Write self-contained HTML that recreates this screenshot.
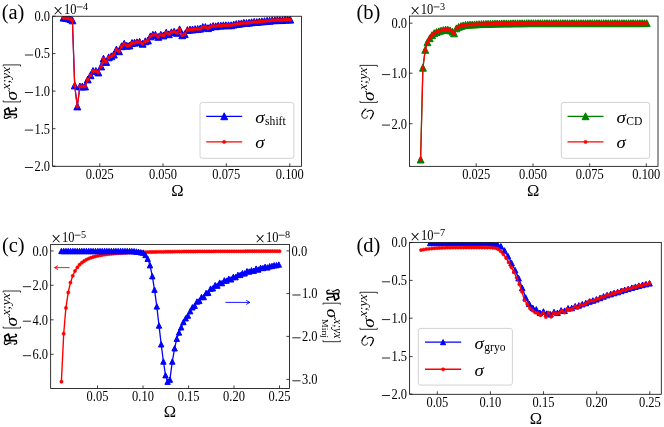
<!DOCTYPE html>
<html><head><meta charset="utf-8"><title>Figure</title>
<style>html,body{margin:0;padding:0;background:#fff;font-family:"Liberation Serif",serif;}svg{display:block;will-change:transform;}</style>
</head><body>
<svg width="664" height="427" viewBox="0 0 664 427" font-family="'Liberation Serif', serif" fill="#000"><rect width="664" height="427" fill="#fff"/>
<defs>
<clipPath id="ca"><rect x="52.5" y="16" width="249" height="150.3"/></clipPath>
<clipPath id="cb"><rect x="409.5" y="16.1" width="248.5" height="150.25"/></clipPath>
<clipPath id="cc"><rect x="50.65" y="244.4" width="238.8" height="144.05"/></clipPath>
<clipPath id="cd"><rect x="409.6" y="242.4" width="251.7" height="151.9"/></clipPath>
</defs>
<g clip-path="url(#ca)"><polyline points="63.5,17.6 65.7,17.9 68.2,18.3 70.5,19 72.4,20.4 74.7,85.5 77.3,106.5 79.9,86.4 82.4,86.4 85,86.5 87.7,79.5 90.5,75.3 93,71 95.8,71 98.3,72.5 101.1,66.5 103.5,58.7 106.1,62 108.7,57.4 111.3,56.2 113.8,54.6 116.4,49.6 119,51.3 121.6,46.3 124.2,43.8 126.8,45.8 129.4,45.5 132,43 134.5,42.7 137,42.2 139.6,41.8 142.6,43.8 145.3,41.3 147.9,40.5 150.4,36.4 152.9,34.7 155.4,34.7 158.2,36.9 160.8,34.7 163.4,35.5 166.2,32.6 168.8,34.2 171.4,32.2 174.2,31.6 177,32.9 179.6,29.3 182.2,35.3 184.7,34.1 187.4,30 190,29.6 192.5,29.5 195.1,29.1 197.7,29 200.2,28.7 202.8,27.1 205.4,27 208,28.2 210.5,26.9 213.1,26 215.7,26.2 218.2,25.7 220.8,25.7 223.4,25.2 225.9,25.2 228.5,25.2 231.1,25.2 233.7,24.6 236.2,24 238.8,23.8 241.4,23.4 243.9,22.8 246.5,23 249.1,22.7 251.6,22.3 254.2,21.9 256.8,22.1 259.4,21.5 261.9,21.3 264.5,21.1 267.1,20.8 269.6,20.7 272.2,20.2 274.8,20.3 277.4,19.9 279.9,20.1 282.5,20.1 285.1,19.5 287.6,19.5 290.2,19.7" fill="none" stroke="#0000ff" stroke-width="1.25" stroke-linejoin="round"/><path d="M63.5,14.2l3.5,6.9h-6.9zM65.7,14.4l3.5,6.9h-6.9zM68.2,14.9l3.5,6.9h-6.9zM70.5,15.6l3.5,6.9h-6.9zM72.4,16.9l3.5,6.9h-6.9zM74.7,82l3.5,6.9h-6.9zM77.3,103l3.5,6.9h-6.9zM79.9,83l3.5,6.9h-6.9zM82.4,83l3.5,6.9h-6.9zM85,83l3.5,6.9h-6.9zM87.7,76l3.5,6.9h-6.9zM90.5,71.8l3.5,6.9h-6.9zM93,67.5l3.5,6.9h-6.9zM95.8,67.5l3.5,6.9h-6.9zM98.3,69l3.5,6.9h-6.9zM101.1,63l3.5,6.9h-6.9zM103.5,55.2l3.5,6.9h-6.9zM106.1,58.5l3.5,6.9h-6.9zM108.7,53.9l3.5,6.9h-6.9zM111.3,52.8l3.5,6.9h-6.9zM113.8,51.1l3.5,6.9h-6.9zM116.4,46.1l3.5,6.9h-6.9zM119,47.8l3.5,6.9h-6.9zM121.6,42.8l3.5,6.9h-6.9zM124.2,40.3l3.5,6.9h-6.9zM126.8,42.3l3.5,6.9h-6.9zM129.4,42l3.5,6.9h-6.9zM132,39.5l3.5,6.9h-6.9zM134.5,39.2l3.5,6.9h-6.9zM137,38.8l3.5,6.9h-6.9zM139.6,38.3l3.5,6.9h-6.9zM142.6,40.3l3.5,6.9h-6.9zM145.3,37.8l3.5,6.9h-6.9zM147.9,37l3.5,6.9h-6.9zM150.4,32.9l3.5,6.9h-6.9zM152.9,31.3l3.5,6.9h-6.9zM155.4,31.3l3.5,6.9h-6.9zM158.2,33.4l3.5,6.9h-6.9zM160.8,31.3l3.5,6.9h-6.9zM163.4,32l3.5,6.9h-6.9zM166.2,29.2l3.5,6.9h-6.9zM168.8,30.8l3.5,6.9h-6.9zM171.4,28.8l3.5,6.9h-6.9zM174.2,28.2l3.5,6.9h-6.9zM177,29.4l3.5,6.9h-6.9zM179.6,25.9l3.5,6.9h-6.9zM182.2,31.8l3.5,6.9h-6.9zM184.7,30.7l3.5,6.9h-6.9zM187.4,26.6l3.5,6.9h-6.9zM190,26.1l3.5,6.9h-6.9zM192.5,26l3.5,6.9h-6.9zM195.1,25.7l3.5,6.9h-6.9zM197.7,25.5l3.5,6.9h-6.9zM200.2,25.2l3.5,6.9h-6.9zM202.8,23.6l3.5,6.9h-6.9zM205.4,23.6l3.5,6.9h-6.9zM208,24.7l3.5,6.9h-6.9zM210.5,23.5l3.5,6.9h-6.9zM213.1,22.6l3.5,6.9h-6.9zM215.7,22.8l3.5,6.9h-6.9zM218.2,22.2l3.5,6.9h-6.9zM220.8,22.2l3.5,6.9h-6.9zM223.4,21.8l3.5,6.9h-6.9zM225.9,21.8l3.5,6.9h-6.9zM228.5,21.8l3.5,6.9h-6.9zM231.1,21.8l3.5,6.9h-6.9zM233.7,21.1l3.5,6.9h-6.9zM236.2,20.6l3.5,6.9h-6.9zM238.8,20.3l3.5,6.9h-6.9zM241.4,19.9l3.5,6.9h-6.9zM243.9,19.3l3.5,6.9h-6.9zM246.5,19.5l3.5,6.9h-6.9zM249.1,19.2l3.5,6.9h-6.9zM251.6,18.8l3.5,6.9h-6.9zM254.2,18.4l3.5,6.9h-6.9zM256.8,18.6l3.5,6.9h-6.9zM259.4,18.1l3.5,6.9h-6.9zM261.9,17.9l3.5,6.9h-6.9zM264.5,17.7l3.5,6.9h-6.9zM267.1,17.3l3.5,6.9h-6.9zM269.6,17.3l3.5,6.9h-6.9zM272.2,16.8l3.5,6.9h-6.9zM274.8,16.8l3.5,6.9h-6.9zM277.4,16.5l3.5,6.9h-6.9zM279.9,16.7l3.5,6.9h-6.9zM282.5,16.6l3.5,6.9h-6.9zM285.1,16.1l3.5,6.9h-6.9zM287.6,16.1l3.5,6.9h-6.9zM290.2,16.2l3.5,6.9h-6.9z" fill="#0000ff" stroke="#0000ff" stroke-width="1" stroke-linejoin="miter"/><polyline points="63.5,17.6 65.7,17.9 68.2,18.3 70.5,19 72.4,20.4 74.7,85.5 77.3,106.5 79.9,86.4 82.4,86.4 85,86.5 87.7,79.5 90.5,75.3 93,71 95.8,71 98.3,72.5 101.1,66.5 103.5,58.7 106.1,62 108.7,57.4 111.3,56.2 113.8,54.6 116.4,49.6 119,51.3 121.6,46.3 124.2,43.8 126.8,45.8 129.4,45.5 132,43 134.5,42.7 137,42.2 139.6,41.8 142.6,43.8 145.3,41.3 147.9,40.5 150.4,36.4 152.9,34.7 155.4,34.7 158.2,36.9 160.8,34.7 163.4,35.5 166.2,32.6 168.8,34.2 171.4,32.2 174.2,31.6 177,32.9 179.6,29.3 182.2,35.3 184.7,34.1 187.4,30 190,29.6 192.5,29.5 195.1,29.1 197.7,29 200.2,28.7 202.8,27.1 205.4,27 208,28.2 210.5,26.9 213.1,26 215.7,26.2 218.2,25.7 220.8,25.7 223.4,25.2 225.9,25.2 228.5,25.2 231.1,25.2 233.7,24.6 236.2,24 238.8,23.8 241.4,23.4 243.9,22.8 246.5,23 249.1,22.7 251.6,22.3 254.2,21.9 256.8,22.1 259.4,21.5 261.9,21.3 264.5,21.1 267.1,20.8 269.6,20.7 272.2,20.2 274.8,20.3 277.4,19.9 279.9,20.1 282.5,20.1 285.1,19.5 287.6,19.5 290.2,19.7" fill="none" stroke="#ff0000" stroke-width="1.25" stroke-linejoin="round"/><path d="M61.9,17.6a1.65,1.65 0 1,0 3.3,0a1.65,1.65 0 1,0 -3.3,0zM64,17.9a1.65,1.65 0 1,0 3.3,0a1.65,1.65 0 1,0 -3.3,0zM66.5,18.3a1.65,1.65 0 1,0 3.3,0a1.65,1.65 0 1,0 -3.3,0zM68.8,19a1.65,1.65 0 1,0 3.3,0a1.65,1.65 0 1,0 -3.3,0zM70.8,20.4a1.65,1.65 0 1,0 3.3,0a1.65,1.65 0 1,0 -3.3,0zM73,85.5a1.65,1.65 0 1,0 3.3,0a1.65,1.65 0 1,0 -3.3,0zM75.6,106.5a1.65,1.65 0 1,0 3.3,0a1.65,1.65 0 1,0 -3.3,0zM78.2,86.4a1.65,1.65 0 1,0 3.3,0a1.65,1.65 0 1,0 -3.3,0zM80.8,86.4a1.65,1.65 0 1,0 3.3,0a1.65,1.65 0 1,0 -3.3,0zM83.3,86.5a1.65,1.65 0 1,0 3.3,0a1.65,1.65 0 1,0 -3.3,0zM86,79.5a1.65,1.65 0 1,0 3.3,0a1.65,1.65 0 1,0 -3.3,0zM88.8,75.3a1.65,1.65 0 1,0 3.3,0a1.65,1.65 0 1,0 -3.3,0zM91.3,71a1.65,1.65 0 1,0 3.3,0a1.65,1.65 0 1,0 -3.3,0zM94.1,71a1.65,1.65 0 1,0 3.3,0a1.65,1.65 0 1,0 -3.3,0zM96.6,72.5a1.65,1.65 0 1,0 3.3,0a1.65,1.65 0 1,0 -3.3,0zM99.4,66.5a1.65,1.65 0 1,0 3.3,0a1.65,1.65 0 1,0 -3.3,0zM101.8,58.7a1.65,1.65 0 1,0 3.3,0a1.65,1.65 0 1,0 -3.3,0zM104.4,62a1.65,1.65 0 1,0 3.3,0a1.65,1.65 0 1,0 -3.3,0zM107,57.4a1.65,1.65 0 1,0 3.3,0a1.65,1.65 0 1,0 -3.3,0zM109.6,56.2a1.65,1.65 0 1,0 3.3,0a1.65,1.65 0 1,0 -3.3,0zM112.1,54.6a1.65,1.65 0 1,0 3.3,0a1.65,1.65 0 1,0 -3.3,0zM114.8,49.6a1.65,1.65 0 1,0 3.3,0a1.65,1.65 0 1,0 -3.3,0zM117.3,51.3a1.65,1.65 0 1,0 3.3,0a1.65,1.65 0 1,0 -3.3,0zM119.9,46.3a1.65,1.65 0 1,0 3.3,0a1.65,1.65 0 1,0 -3.3,0zM122.5,43.8a1.65,1.65 0 1,0 3.3,0a1.65,1.65 0 1,0 -3.3,0zM125.1,45.8a1.65,1.65 0 1,0 3.3,0a1.65,1.65 0 1,0 -3.3,0zM127.8,45.5a1.65,1.65 0 1,0 3.3,0a1.65,1.65 0 1,0 -3.3,0zM130.3,43a1.65,1.65 0 1,0 3.3,0a1.65,1.65 0 1,0 -3.3,0zM132.8,42.7a1.65,1.65 0 1,0 3.3,0a1.65,1.65 0 1,0 -3.3,0zM135.3,42.2a1.65,1.65 0 1,0 3.3,0a1.65,1.65 0 1,0 -3.3,0zM137.9,41.8a1.65,1.65 0 1,0 3.3,0a1.65,1.65 0 1,0 -3.3,0zM140.9,43.8a1.65,1.65 0 1,0 3.3,0a1.65,1.65 0 1,0 -3.3,0zM143.7,41.3a1.65,1.65 0 1,0 3.3,0a1.65,1.65 0 1,0 -3.3,0zM146.2,40.5a1.65,1.65 0 1,0 3.3,0a1.65,1.65 0 1,0 -3.3,0zM148.8,36.4a1.65,1.65 0 1,0 3.3,0a1.65,1.65 0 1,0 -3.3,0zM151.2,34.7a1.65,1.65 0 1,0 3.3,0a1.65,1.65 0 1,0 -3.3,0zM153.8,34.7a1.65,1.65 0 1,0 3.3,0a1.65,1.65 0 1,0 -3.3,0zM156.5,36.9a1.65,1.65 0 1,0 3.3,0a1.65,1.65 0 1,0 -3.3,0zM159.2,34.7a1.65,1.65 0 1,0 3.3,0a1.65,1.65 0 1,0 -3.3,0zM161.8,35.5a1.65,1.65 0 1,0 3.3,0a1.65,1.65 0 1,0 -3.3,0zM164.5,32.6a1.65,1.65 0 1,0 3.3,0a1.65,1.65 0 1,0 -3.3,0zM167.2,34.2a1.65,1.65 0 1,0 3.3,0a1.65,1.65 0 1,0 -3.3,0zM169.8,32.2a1.65,1.65 0 1,0 3.3,0a1.65,1.65 0 1,0 -3.3,0zM172.5,31.6a1.65,1.65 0 1,0 3.3,0a1.65,1.65 0 1,0 -3.3,0zM175.3,32.9a1.65,1.65 0 1,0 3.3,0a1.65,1.65 0 1,0 -3.3,0zM177.9,29.3a1.65,1.65 0 1,0 3.3,0a1.65,1.65 0 1,0 -3.3,0zM180.5,35.3a1.65,1.65 0 1,0 3.3,0a1.65,1.65 0 1,0 -3.3,0zM183,34.1a1.65,1.65 0 1,0 3.3,0a1.65,1.65 0 1,0 -3.3,0zM185.8,30a1.65,1.65 0 1,0 3.3,0a1.65,1.65 0 1,0 -3.3,0zM188.3,29.6a1.65,1.65 0 1,0 3.3,0a1.65,1.65 0 1,0 -3.3,0zM190.9,29.5a1.65,1.65 0 1,0 3.3,0a1.65,1.65 0 1,0 -3.3,0zM193.5,29.1a1.65,1.65 0 1,0 3.3,0a1.65,1.65 0 1,0 -3.3,0zM196,29a1.65,1.65 0 1,0 3.3,0a1.65,1.65 0 1,0 -3.3,0zM198.6,28.7a1.65,1.65 0 1,0 3.3,0a1.65,1.65 0 1,0 -3.3,0zM201.2,27.1a1.65,1.65 0 1,0 3.3,0a1.65,1.65 0 1,0 -3.3,0zM203.7,27a1.65,1.65 0 1,0 3.3,0a1.65,1.65 0 1,0 -3.3,0zM206.3,28.2a1.65,1.65 0 1,0 3.3,0a1.65,1.65 0 1,0 -3.3,0zM208.9,26.9a1.65,1.65 0 1,0 3.3,0a1.65,1.65 0 1,0 -3.3,0zM211.4,26a1.65,1.65 0 1,0 3.3,0a1.65,1.65 0 1,0 -3.3,0zM214,26.2a1.65,1.65 0 1,0 3.3,0a1.65,1.65 0 1,0 -3.3,0zM216.6,25.7a1.65,1.65 0 1,0 3.3,0a1.65,1.65 0 1,0 -3.3,0zM219.2,25.7a1.65,1.65 0 1,0 3.3,0a1.65,1.65 0 1,0 -3.3,0zM221.7,25.2a1.65,1.65 0 1,0 3.3,0a1.65,1.65 0 1,0 -3.3,0zM224.3,25.2a1.65,1.65 0 1,0 3.3,0a1.65,1.65 0 1,0 -3.3,0zM226.9,25.2a1.65,1.65 0 1,0 3.3,0a1.65,1.65 0 1,0 -3.3,0zM229.4,25.2a1.65,1.65 0 1,0 3.3,0a1.65,1.65 0 1,0 -3.3,0zM232,24.6a1.65,1.65 0 1,0 3.3,0a1.65,1.65 0 1,0 -3.3,0zM234.6,24a1.65,1.65 0 1,0 3.3,0a1.65,1.65 0 1,0 -3.3,0zM237.2,23.8a1.65,1.65 0 1,0 3.3,0a1.65,1.65 0 1,0 -3.3,0zM239.7,23.4a1.65,1.65 0 1,0 3.3,0a1.65,1.65 0 1,0 -3.3,0zM242.3,22.8a1.65,1.65 0 1,0 3.3,0a1.65,1.65 0 1,0 -3.3,0zM244.9,23a1.65,1.65 0 1,0 3.3,0a1.65,1.65 0 1,0 -3.3,0zM247.4,22.7a1.65,1.65 0 1,0 3.3,0a1.65,1.65 0 1,0 -3.3,0zM250,22.3a1.65,1.65 0 1,0 3.3,0a1.65,1.65 0 1,0 -3.3,0zM252.6,21.9a1.65,1.65 0 1,0 3.3,0a1.65,1.65 0 1,0 -3.3,0zM255.1,22.1a1.65,1.65 0 1,0 3.3,0a1.65,1.65 0 1,0 -3.3,0zM257.7,21.5a1.65,1.65 0 1,0 3.3,0a1.65,1.65 0 1,0 -3.3,0zM260.3,21.3a1.65,1.65 0 1,0 3.3,0a1.65,1.65 0 1,0 -3.3,0zM262.9,21.1a1.65,1.65 0 1,0 3.3,0a1.65,1.65 0 1,0 -3.3,0zM265.4,20.8a1.65,1.65 0 1,0 3.3,0a1.65,1.65 0 1,0 -3.3,0zM268,20.7a1.65,1.65 0 1,0 3.3,0a1.65,1.65 0 1,0 -3.3,0zM270.6,20.2a1.65,1.65 0 1,0 3.3,0a1.65,1.65 0 1,0 -3.3,0zM273.1,20.3a1.65,1.65 0 1,0 3.3,0a1.65,1.65 0 1,0 -3.3,0zM275.7,19.9a1.65,1.65 0 1,0 3.3,0a1.65,1.65 0 1,0 -3.3,0zM278.3,20.1a1.65,1.65 0 1,0 3.3,0a1.65,1.65 0 1,0 -3.3,0zM280.8,20.1a1.65,1.65 0 1,0 3.3,0a1.65,1.65 0 1,0 -3.3,0zM283.4,19.5a1.65,1.65 0 1,0 3.3,0a1.65,1.65 0 1,0 -3.3,0zM286,19.5a1.65,1.65 0 1,0 3.3,0a1.65,1.65 0 1,0 -3.3,0zM288.6,19.7a1.65,1.65 0 1,0 3.3,0a1.65,1.65 0 1,0 -3.3,0z" fill="#ff0000" stroke="#ff0000" stroke-width="0.5"/></g>
<rect x="52.6" y="16.25" width="248.9" height="150.05" fill="none" stroke="#111" stroke-width="0.85"/>
<line x1="99.8" y1="166.3" x2="99.8" y2="163.3" stroke="#111" stroke-width="0.8"/><line x1="163" y1="166.3" x2="163" y2="163.3" stroke="#111" stroke-width="0.8"/><line x1="226.3" y1="166.3" x2="226.3" y2="163.3" stroke="#111" stroke-width="0.8"/><line x1="289.8" y1="166.3" x2="289.8" y2="163.3" stroke="#111" stroke-width="0.8"/>
<line x1="52.5" y1="16.2" x2="55.5" y2="16.2" stroke="#111" stroke-width="0.8"/><line x1="52.5" y1="53.6" x2="55.5" y2="53.6" stroke="#111" stroke-width="0.8"/><line x1="52.5" y1="91.1" x2="55.5" y2="91.1" stroke="#111" stroke-width="0.8"/><line x1="52.5" y1="128.7" x2="55.5" y2="128.7" stroke="#111" stroke-width="0.8"/><line x1="52.5" y1="166.1" x2="55.5" y2="166.1" stroke="#111" stroke-width="0.8"/>
<text transform="translate(99.8,179.2) scale(0.93,1.035)" font-size="13.4" text-anchor="middle">0.025</text>
<text transform="translate(163,179.2) scale(0.93,1.035)" font-size="13.4" text-anchor="middle">0.050</text>
<text transform="translate(226.3,179.2) scale(0.93,1.035)" font-size="13.4" text-anchor="middle">0.075</text>
<text transform="translate(289.8,179.2) scale(0.93,1.035)" font-size="13.4" text-anchor="middle">0.100</text>
<text transform="translate(50,21) scale(0.93,1.035)" font-size="13.4" text-anchor="end">0.0</text>
<text transform="translate(50,58.4) scale(0.93,1.035)" font-size="13.4" text-anchor="end">0.5</text><line x1="24.9" y1="55" x2="33.1" y2="55" stroke="#000" stroke-width="0.85"/>
<text transform="translate(50,95.9) scale(0.93,1.035)" font-size="13.4" text-anchor="end">1.0</text><line x1="24.9" y1="92.5" x2="33.1" y2="92.5" stroke="#000" stroke-width="0.85"/>
<text transform="translate(50,133.5) scale(0.93,1.035)" font-size="13.4" text-anchor="end">1.5</text><line x1="24.9" y1="130.1" x2="33.1" y2="130.1" stroke="#000" stroke-width="0.85"/>
<text transform="translate(50,170.9) scale(0.93,1.035)" font-size="13.4" text-anchor="end">2.0</text><line x1="24.9" y1="167.5" x2="33.1" y2="167.5" stroke="#000" stroke-width="0.85"/>
<text x="53.1" y="16.7" font-size="18">×</text><text transform="translate(63.9,13.9) scale(0.93,1.035)" font-size="13.4" text-anchor="start">10</text><line x1="76.7" y1="6.9" x2="82.6" y2="6.9" stroke="#000" stroke-width="0.75"/><text x="83.1" y="9.6" font-size="10.2">4</text>
<text x="177.3" y="196.0" font-size="16.6" text-anchor="middle" >Ω</text>
<text x="1.7" y="19.1" font-size="20.5" text-anchor="start" >(a)</text>
<g clip-path="url(#cb)"><polyline points="420.6,159.5 422.9,67.8 425.2,49.9 427.4,42.3 429.7,38.2 432,35.1 434.2,33.1 436.5,32 438.8,31.2 441,30.5 443.3,30 445.6,29.5 447.8,29.6 450.1,30.3 452.4,31.6 454,33.4 456.4,28.3 458.7,26.8 461,26 463.2,25.4 465.5,24.9 467.8,24.7 470,24.6 472.3,24.5 474.6,24.4 476.8,24.3 479.1,24.2 481.4,24.1 483.6,24 485.9,23.9 488.1,23.8 490.4,23.7 492.7,23.6 494.9,23.6 497.2,23.5 499.5,23.4 501.7,23.4 504,23.4 506.3,23.4 508.5,23.3 510.8,23.3 513.1,23.3 515.3,23.3 517.6,23.3 519.9,23.2 522.1,23.2 524.4,23.2 526.7,23.2 528.9,23.2 531.2,23.2 533.4,23.1 535.7,23.1 538,23.1 540.2,23.1 542.5,23.1 544.8,23.1 547,23.1 549.3,23.1 551.6,23.1 553.8,23.1 556.1,23.1 558.4,23.1 560.6,23.1 562.9,23.1 565.2,23.1 567.4,23.1 569.7,23.1 572,23.1 574.2,23.1 576.5,23.1 578.7,23.1 581,23.1 583.3,23.1 585.5,23.1 587.8,23.1 590.1,23.1 592.3,23.1 594.6,23.1 596.9,23.1 599.1,23.1 601.4,23.1 603.7,23.1 605.9,23.1 608.2,23.1 610.5,23.1 612.7,23.1 615,23.1 617.3,23.1 619.5,23.1 621.8,23.1 624,23.1 626.3,23.1 628.6,23.1 630.8,23.1 633.1,23.1 635.4,23.1 637.6,23.1 639.9,23.1 642.2,23.1 644.4,23.1 646.7,23.1" fill="none" stroke="#008000" stroke-width="1.25" stroke-linejoin="round"/><path d="M420.6,156.1l3.5,6.9h-6.9zM422.9,64.3l3.5,6.9h-6.9zM425.2,46.4l3.5,6.9h-6.9zM427.4,38.8l3.5,6.9h-6.9zM429.7,34.8l3.5,6.9h-6.9zM432,31.7l3.5,6.9h-6.9zM434.2,29.7l3.5,6.9h-6.9zM436.5,28.6l3.5,6.9h-6.9zM438.8,27.8l3.5,6.9h-6.9zM441,27.1l3.5,6.9h-6.9zM443.3,26.6l3.5,6.9h-6.9zM445.6,26.1l3.5,6.9h-6.9zM447.8,26.2l3.5,6.9h-6.9zM450.1,26.9l3.5,6.9h-6.9zM452.4,28.2l3.5,6.9h-6.9zM454,29.9l3.5,6.9h-6.9zM456.4,24.9l3.5,6.9h-6.9zM458.7,23.4l3.5,6.9h-6.9zM461,22.6l3.5,6.9h-6.9zM463.2,21.9l3.5,6.9h-6.9zM465.5,21.4l3.5,6.9h-6.9zM467.8,21.3l3.5,6.9h-6.9zM470,21.1l3.5,6.9h-6.9zM472.3,21l3.5,6.9h-6.9zM474.6,20.9l3.5,6.9h-6.9zM476.8,20.8l3.5,6.9h-6.9zM479.1,20.7l3.5,6.9h-6.9zM481.4,20.6l3.5,6.9h-6.9zM483.6,20.5l3.5,6.9h-6.9zM485.9,20.4l3.5,6.9h-6.9zM488.1,20.3l3.5,6.9h-6.9zM490.4,20.3l3.5,6.9h-6.9zM492.7,20.2l3.5,6.9h-6.9zM494.9,20.1l3.5,6.9h-6.9zM497.2,20l3.5,6.9h-6.9zM499.5,20l3.5,6.9h-6.9zM501.7,19.9l3.5,6.9h-6.9zM504,19.9l3.5,6.9h-6.9zM506.3,19.9l3.5,6.9h-6.9zM508.5,19.9l3.5,6.9h-6.9zM510.8,19.9l3.5,6.9h-6.9zM513.1,19.8l3.5,6.9h-6.9zM515.3,19.8l3.5,6.9h-6.9zM517.6,19.8l3.5,6.9h-6.9zM519.9,19.8l3.5,6.9h-6.9zM522.1,19.8l3.5,6.9h-6.9zM524.4,19.8l3.5,6.9h-6.9zM526.7,19.7l3.5,6.9h-6.9zM528.9,19.7l3.5,6.9h-6.9zM531.2,19.7l3.5,6.9h-6.9zM533.4,19.7l3.5,6.9h-6.9zM535.7,19.7l3.5,6.9h-6.9zM538,19.7l3.5,6.9h-6.9zM540.2,19.7l3.5,6.9h-6.9zM542.5,19.7l3.5,6.9h-6.9zM544.8,19.7l3.5,6.9h-6.9zM547,19.7l3.5,6.9h-6.9zM549.3,19.7l3.5,6.9h-6.9zM551.6,19.7l3.5,6.9h-6.9zM553.8,19.7l3.5,6.9h-6.9zM556.1,19.7l3.5,6.9h-6.9zM558.4,19.7l3.5,6.9h-6.9zM560.6,19.7l3.5,6.9h-6.9zM562.9,19.7l3.5,6.9h-6.9zM565.2,19.7l3.5,6.9h-6.9zM567.4,19.7l3.5,6.9h-6.9zM569.7,19.7l3.5,6.9h-6.9zM572,19.7l3.5,6.9h-6.9zM574.2,19.7l3.5,6.9h-6.9zM576.5,19.7l3.5,6.9h-6.9zM578.7,19.7l3.5,6.9h-6.9zM581,19.7l3.5,6.9h-6.9zM583.3,19.7l3.5,6.9h-6.9zM585.5,19.7l3.5,6.9h-6.9zM587.8,19.7l3.5,6.9h-6.9zM590.1,19.7l3.5,6.9h-6.9zM592.3,19.7l3.5,6.9h-6.9zM594.6,19.7l3.5,6.9h-6.9zM596.9,19.7l3.5,6.9h-6.9zM599.1,19.7l3.5,6.9h-6.9zM601.4,19.7l3.5,6.9h-6.9zM603.7,19.7l3.5,6.9h-6.9zM605.9,19.7l3.5,6.9h-6.9zM608.2,19.7l3.5,6.9h-6.9zM610.5,19.7l3.5,6.9h-6.9zM612.7,19.7l3.5,6.9h-6.9zM615,19.7l3.5,6.9h-6.9zM617.3,19.7l3.5,6.9h-6.9zM619.5,19.7l3.5,6.9h-6.9zM621.8,19.7l3.5,6.9h-6.9zM624,19.7l3.5,6.9h-6.9zM626.3,19.7l3.5,6.9h-6.9zM628.6,19.7l3.5,6.9h-6.9zM630.8,19.7l3.5,6.9h-6.9zM633.1,19.7l3.5,6.9h-6.9zM635.4,19.7l3.5,6.9h-6.9zM637.6,19.7l3.5,6.9h-6.9zM639.9,19.7l3.5,6.9h-6.9zM642.2,19.7l3.5,6.9h-6.9zM644.4,19.7l3.5,6.9h-6.9zM646.7,19.7l3.5,6.9h-6.9z" fill="#008000" stroke="#008000" stroke-width="1" stroke-linejoin="miter"/><polyline points="420.6,159.5 422.9,67.8 425.2,49.9 427.4,42.3 429.7,38.2 432,35.1 434.2,33.1 436.5,32 438.8,31.2 441,30.5 443.3,30 445.6,29.5 447.8,29.6 450.1,30.3 452.4,31.6 454,33.4 456.4,28.3 458.7,26.8 461,26 463.2,25.4 465.5,24.9 467.8,24.7 470,24.6 472.3,24.5 474.6,24.4 476.8,24.3 479.1,24.2 481.4,24.1 483.6,24 485.9,23.9 488.1,23.8 490.4,23.7 492.7,23.6 494.9,23.6 497.2,23.5 499.5,23.4 501.7,23.4 504,23.4 506.3,23.4 508.5,23.3 510.8,23.3 513.1,23.3 515.3,23.3 517.6,23.3 519.9,23.2 522.1,23.2 524.4,23.2 526.7,23.2 528.9,23.2 531.2,23.2 533.4,23.1 535.7,23.1 538,23.1 540.2,23.1 542.5,23.1 544.8,23.1 547,23.1 549.3,23.1 551.6,23.1 553.8,23.1 556.1,23.1 558.4,23.1 560.6,23.1 562.9,23.1 565.2,23.1 567.4,23.1 569.7,23.1 572,23.1 574.2,23.1 576.5,23.1 578.7,23.1 581,23.1 583.3,23.1 585.5,23.1 587.8,23.1 590.1,23.1 592.3,23.1 594.6,23.1 596.9,23.1 599.1,23.1 601.4,23.1 603.7,23.1 605.9,23.1 608.2,23.1 610.5,23.1 612.7,23.1 615,23.1 617.3,23.1 619.5,23.1 621.8,23.1 624,23.1 626.3,23.1 628.6,23.1 630.8,23.1 633.1,23.1 635.4,23.1 637.6,23.1 639.9,23.1 642.2,23.1 644.4,23.1 646.7,23.1" fill="none" stroke="#ff0000" stroke-width="1.25" stroke-linejoin="round"/><path d="M419,159.5a1.65,1.65 0 1,0 3.3,0a1.65,1.65 0 1,0 -3.3,0zM421.2,67.8a1.65,1.65 0 1,0 3.3,0a1.65,1.65 0 1,0 -3.3,0zM423.6,49.9a1.65,1.65 0 1,0 3.3,0a1.65,1.65 0 1,0 -3.3,0zM425.8,42.3a1.65,1.65 0 1,0 3.3,0a1.65,1.65 0 1,0 -3.3,0zM428.1,38.2a1.65,1.65 0 1,0 3.3,0a1.65,1.65 0 1,0 -3.3,0zM430.4,35.1a1.65,1.65 0 1,0 3.3,0a1.65,1.65 0 1,0 -3.3,0zM432.6,33.1a1.65,1.65 0 1,0 3.3,0a1.65,1.65 0 1,0 -3.3,0zM434.9,32a1.65,1.65 0 1,0 3.3,0a1.65,1.65 0 1,0 -3.3,0zM437.2,31.2a1.65,1.65 0 1,0 3.3,0a1.65,1.65 0 1,0 -3.3,0zM439.4,30.5a1.65,1.65 0 1,0 3.3,0a1.65,1.65 0 1,0 -3.3,0zM441.7,30a1.65,1.65 0 1,0 3.3,0a1.65,1.65 0 1,0 -3.3,0zM444,29.5a1.65,1.65 0 1,0 3.3,0a1.65,1.65 0 1,0 -3.3,0zM446.2,29.6a1.65,1.65 0 1,0 3.3,0a1.65,1.65 0 1,0 -3.3,0zM448.5,30.3a1.65,1.65 0 1,0 3.3,0a1.65,1.65 0 1,0 -3.3,0zM450.8,31.6a1.65,1.65 0 1,0 3.3,0a1.65,1.65 0 1,0 -3.3,0zM452.4,33.4a1.65,1.65 0 1,0 3.3,0a1.65,1.65 0 1,0 -3.3,0zM454.8,28.3a1.65,1.65 0 1,0 3.3,0a1.65,1.65 0 1,0 -3.3,0zM457.1,26.8a1.65,1.65 0 1,0 3.3,0a1.65,1.65 0 1,0 -3.3,0zM459.4,26a1.65,1.65 0 1,0 3.3,0a1.65,1.65 0 1,0 -3.3,0zM461.6,25.4a1.65,1.65 0 1,0 3.3,0a1.65,1.65 0 1,0 -3.3,0zM463.9,24.9a1.65,1.65 0 1,0 3.3,0a1.65,1.65 0 1,0 -3.3,0zM466.1,24.7a1.65,1.65 0 1,0 3.3,0a1.65,1.65 0 1,0 -3.3,0zM468.4,24.6a1.65,1.65 0 1,0 3.3,0a1.65,1.65 0 1,0 -3.3,0zM470.6,24.5a1.65,1.65 0 1,0 3.3,0a1.65,1.65 0 1,0 -3.3,0zM472.9,24.4a1.65,1.65 0 1,0 3.3,0a1.65,1.65 0 1,0 -3.3,0zM475.2,24.3a1.65,1.65 0 1,0 3.3,0a1.65,1.65 0 1,0 -3.3,0zM477.4,24.2a1.65,1.65 0 1,0 3.3,0a1.65,1.65 0 1,0 -3.3,0zM479.7,24.1a1.65,1.65 0 1,0 3.3,0a1.65,1.65 0 1,0 -3.3,0zM482,24a1.65,1.65 0 1,0 3.3,0a1.65,1.65 0 1,0 -3.3,0zM484.2,23.9a1.65,1.65 0 1,0 3.3,0a1.65,1.65 0 1,0 -3.3,0zM486.5,23.8a1.65,1.65 0 1,0 3.3,0a1.65,1.65 0 1,0 -3.3,0zM488.8,23.7a1.65,1.65 0 1,0 3.3,0a1.65,1.65 0 1,0 -3.3,0zM491,23.6a1.65,1.65 0 1,0 3.3,0a1.65,1.65 0 1,0 -3.3,0zM493.3,23.6a1.65,1.65 0 1,0 3.3,0a1.65,1.65 0 1,0 -3.3,0zM495.6,23.5a1.65,1.65 0 1,0 3.3,0a1.65,1.65 0 1,0 -3.3,0zM497.8,23.4a1.65,1.65 0 1,0 3.3,0a1.65,1.65 0 1,0 -3.3,0zM500.1,23.4a1.65,1.65 0 1,0 3.3,0a1.65,1.65 0 1,0 -3.3,0zM502.4,23.4a1.65,1.65 0 1,0 3.3,0a1.65,1.65 0 1,0 -3.3,0zM504.6,23.4a1.65,1.65 0 1,0 3.3,0a1.65,1.65 0 1,0 -3.3,0zM506.9,23.3a1.65,1.65 0 1,0 3.3,0a1.65,1.65 0 1,0 -3.3,0zM509.1,23.3a1.65,1.65 0 1,0 3.3,0a1.65,1.65 0 1,0 -3.3,0zM511.4,23.3a1.65,1.65 0 1,0 3.3,0a1.65,1.65 0 1,0 -3.3,0zM513.7,23.3a1.65,1.65 0 1,0 3.3,0a1.65,1.65 0 1,0 -3.3,0zM515.9,23.3a1.65,1.65 0 1,0 3.3,0a1.65,1.65 0 1,0 -3.3,0zM518.2,23.2a1.65,1.65 0 1,0 3.3,0a1.65,1.65 0 1,0 -3.3,0zM520.5,23.2a1.65,1.65 0 1,0 3.3,0a1.65,1.65 0 1,0 -3.3,0zM522.7,23.2a1.65,1.65 0 1,0 3.3,0a1.65,1.65 0 1,0 -3.3,0zM525,23.2a1.65,1.65 0 1,0 3.3,0a1.65,1.65 0 1,0 -3.3,0zM527.3,23.2a1.65,1.65 0 1,0 3.3,0a1.65,1.65 0 1,0 -3.3,0zM529.5,23.2a1.65,1.65 0 1,0 3.3,0a1.65,1.65 0 1,0 -3.3,0zM531.8,23.1a1.65,1.65 0 1,0 3.3,0a1.65,1.65 0 1,0 -3.3,0zM534.1,23.1a1.65,1.65 0 1,0 3.3,0a1.65,1.65 0 1,0 -3.3,0zM536.3,23.1a1.65,1.65 0 1,0 3.3,0a1.65,1.65 0 1,0 -3.3,0zM538.6,23.1a1.65,1.65 0 1,0 3.3,0a1.65,1.65 0 1,0 -3.3,0zM540.9,23.1a1.65,1.65 0 1,0 3.3,0a1.65,1.65 0 1,0 -3.3,0zM543.1,23.1a1.65,1.65 0 1,0 3.3,0a1.65,1.65 0 1,0 -3.3,0zM545.4,23.1a1.65,1.65 0 1,0 3.3,0a1.65,1.65 0 1,0 -3.3,0zM547.7,23.1a1.65,1.65 0 1,0 3.3,0a1.65,1.65 0 1,0 -3.3,0zM549.9,23.1a1.65,1.65 0 1,0 3.3,0a1.65,1.65 0 1,0 -3.3,0zM552.2,23.1a1.65,1.65 0 1,0 3.3,0a1.65,1.65 0 1,0 -3.3,0zM554.4,23.1a1.65,1.65 0 1,0 3.3,0a1.65,1.65 0 1,0 -3.3,0zM556.7,23.1a1.65,1.65 0 1,0 3.3,0a1.65,1.65 0 1,0 -3.3,0zM559,23.1a1.65,1.65 0 1,0 3.3,0a1.65,1.65 0 1,0 -3.3,0zM561.2,23.1a1.65,1.65 0 1,0 3.3,0a1.65,1.65 0 1,0 -3.3,0zM563.5,23.1a1.65,1.65 0 1,0 3.3,0a1.65,1.65 0 1,0 -3.3,0zM565.8,23.1a1.65,1.65 0 1,0 3.3,0a1.65,1.65 0 1,0 -3.3,0zM568,23.1a1.65,1.65 0 1,0 3.3,0a1.65,1.65 0 1,0 -3.3,0zM570.3,23.1a1.65,1.65 0 1,0 3.3,0a1.65,1.65 0 1,0 -3.3,0zM572.6,23.1a1.65,1.65 0 1,0 3.3,0a1.65,1.65 0 1,0 -3.3,0zM574.8,23.1a1.65,1.65 0 1,0 3.3,0a1.65,1.65 0 1,0 -3.3,0zM577.1,23.1a1.65,1.65 0 1,0 3.3,0a1.65,1.65 0 1,0 -3.3,0zM579.4,23.1a1.65,1.65 0 1,0 3.3,0a1.65,1.65 0 1,0 -3.3,0zM581.6,23.1a1.65,1.65 0 1,0 3.3,0a1.65,1.65 0 1,0 -3.3,0zM583.9,23.1a1.65,1.65 0 1,0 3.3,0a1.65,1.65 0 1,0 -3.3,0zM586.2,23.1a1.65,1.65 0 1,0 3.3,0a1.65,1.65 0 1,0 -3.3,0zM588.4,23.1a1.65,1.65 0 1,0 3.3,0a1.65,1.65 0 1,0 -3.3,0zM590.7,23.1a1.65,1.65 0 1,0 3.3,0a1.65,1.65 0 1,0 -3.3,0zM593,23.1a1.65,1.65 0 1,0 3.3,0a1.65,1.65 0 1,0 -3.3,0zM595.2,23.1a1.65,1.65 0 1,0 3.3,0a1.65,1.65 0 1,0 -3.3,0zM597.5,23.1a1.65,1.65 0 1,0 3.3,0a1.65,1.65 0 1,0 -3.3,0zM599.7,23.1a1.65,1.65 0 1,0 3.3,0a1.65,1.65 0 1,0 -3.3,0zM602,23.1a1.65,1.65 0 1,0 3.3,0a1.65,1.65 0 1,0 -3.3,0zM604.3,23.1a1.65,1.65 0 1,0 3.3,0a1.65,1.65 0 1,0 -3.3,0zM606.5,23.1a1.65,1.65 0 1,0 3.3,0a1.65,1.65 0 1,0 -3.3,0zM608.8,23.1a1.65,1.65 0 1,0 3.3,0a1.65,1.65 0 1,0 -3.3,0zM611.1,23.1a1.65,1.65 0 1,0 3.3,0a1.65,1.65 0 1,0 -3.3,0zM613.3,23.1a1.65,1.65 0 1,0 3.3,0a1.65,1.65 0 1,0 -3.3,0zM615.6,23.1a1.65,1.65 0 1,0 3.3,0a1.65,1.65 0 1,0 -3.3,0zM617.9,23.1a1.65,1.65 0 1,0 3.3,0a1.65,1.65 0 1,0 -3.3,0zM620.1,23.1a1.65,1.65 0 1,0 3.3,0a1.65,1.65 0 1,0 -3.3,0zM622.4,23.1a1.65,1.65 0 1,0 3.3,0a1.65,1.65 0 1,0 -3.3,0zM624.7,23.1a1.65,1.65 0 1,0 3.3,0a1.65,1.65 0 1,0 -3.3,0zM626.9,23.1a1.65,1.65 0 1,0 3.3,0a1.65,1.65 0 1,0 -3.3,0zM629.2,23.1a1.65,1.65 0 1,0 3.3,0a1.65,1.65 0 1,0 -3.3,0zM631.5,23.1a1.65,1.65 0 1,0 3.3,0a1.65,1.65 0 1,0 -3.3,0zM633.7,23.1a1.65,1.65 0 1,0 3.3,0a1.65,1.65 0 1,0 -3.3,0zM636,23.1a1.65,1.65 0 1,0 3.3,0a1.65,1.65 0 1,0 -3.3,0zM638.3,23.1a1.65,1.65 0 1,0 3.3,0a1.65,1.65 0 1,0 -3.3,0zM640.5,23.1a1.65,1.65 0 1,0 3.3,0a1.65,1.65 0 1,0 -3.3,0zM642.8,23.1a1.65,1.65 0 1,0 3.3,0a1.65,1.65 0 1,0 -3.3,0zM645,23.1a1.65,1.65 0 1,0 3.3,0a1.65,1.65 0 1,0 -3.3,0z" fill="#ff0000" stroke="#ff0000" stroke-width="0.5"/></g>
<rect x="409.5" y="16.1" width="248.5" height="150.25" fill="none" stroke="#111" stroke-width="0.85"/>
<line x1="476.2" y1="166.35" x2="476.2" y2="163.35" stroke="#111" stroke-width="0.8"/><line x1="533" y1="166.35" x2="533" y2="163.35" stroke="#111" stroke-width="0.8"/><line x1="589.7" y1="166.35" x2="589.7" y2="163.35" stroke="#111" stroke-width="0.8"/><line x1="646.3" y1="166.35" x2="646.3" y2="163.35" stroke="#111" stroke-width="0.8"/>
<line x1="409.5" y1="23.2" x2="412.5" y2="23.2" stroke="#111" stroke-width="0.8"/><line x1="409.5" y1="73.2" x2="412.5" y2="73.2" stroke="#111" stroke-width="0.8"/><line x1="409.5" y1="123.7" x2="412.5" y2="123.7" stroke="#111" stroke-width="0.8"/>
<text transform="translate(476.2,179.2) scale(0.93,1.035)" font-size="13.4" text-anchor="middle">0.025</text>
<text transform="translate(533,179.2) scale(0.93,1.035)" font-size="13.4" text-anchor="middle">0.050</text>
<text transform="translate(589.7,179.2) scale(0.93,1.035)" font-size="13.4" text-anchor="middle">0.075</text>
<text transform="translate(646.3,179.2) scale(0.93,1.035)" font-size="13.4" text-anchor="middle">0.100</text>
<text transform="translate(407,28) scale(0.93,1.035)" font-size="13.4" text-anchor="end">0.0</text>
<text transform="translate(407,78) scale(0.93,1.035)" font-size="13.4" text-anchor="end">1.0</text><line x1="381.9" y1="74.6" x2="390.1" y2="74.6" stroke="#000" stroke-width="0.85"/>
<text transform="translate(407,128.5) scale(0.93,1.035)" font-size="13.4" text-anchor="end">2.0</text><line x1="381.9" y1="125.1" x2="390.1" y2="125.1" stroke="#000" stroke-width="0.85"/>
<text x="410" y="16.7" font-size="18">×</text><text transform="translate(420.8,13.9) scale(0.93,1.035)" font-size="13.4" text-anchor="start">10</text><line x1="433.6" y1="6.9" x2="439.5" y2="6.9" stroke="#000" stroke-width="0.75"/><text x="440" y="9.6" font-size="10.2">3</text>
<text x="533.2" y="196.0" font-size="16.6" text-anchor="middle" >Ω</text>
<text x="356.4" y="19.1" font-size="20.5" text-anchor="start" >(b)</text>
<g clip-path="url(#cc)"><polyline points="61.4,381.7 63.7,333.7 65.9,307.9 68.2,292.5 70.5,282.6 72.8,275.8 75,271 77.3,267.4 79.6,264.7 81.8,262.7 84.1,261 86.4,259.7 88.7,258.6 90.9,257.7 93.2,257 95.5,256.4 97.8,255.8 100,255.4 102.3,255 104.6,254.6 106.8,254.3 109.1,254.1 111.4,253.8 113.7,253.6 115.9,253.4 118.2,253.3 120.5,253.1 122.7,253 125,252.8 127.3,252.7 129.6,252.6 131.8,252.5 134.1,252.4 136.4,252.4 138.6,252.3 140.9,252.2 143.2,252.2 145.5,252.1 147.7,252.1 150,252 152.3,252 154.6,251.9 156.8,251.9 159.1,251.8 161.4,251.8 163.6,251.8 165.9,251.7 168.2,251.7 170.5,251.7 172.7,251.7 175,251.6 177.3,251.6 179.5,251.6 181.8,251.6 184.1,251.5 186.4,251.5 188.6,251.5 190.9,251.5 193.2,251.5 195.4,251.5 197.7,251.4 200,251.4 202.3,251.4 204.5,251.4 206.8,251.4 209.1,251.4 211.4,251.4 213.6,251.4 215.9,251.3 218.2,251.3 220.4,251.3 222.7,251.3 225,251.3 227.3,251.3 229.5,251.3 231.8,251.3 234.1,251.3 236.3,251.3 238.6,251.3 240.9,251.3 243.2,251.3 245.4,251.2 247.7,251.2 250,251.2 252.2,251.2 254.5,251.2 256.8,251.2 259.1,251.2 261.3,251.2 263.6,251.2 265.9,251.2 268.2,251.2 270.4,251.2 272.7,251.2 275,251.2 277.2,251.2 279.5,251.2" fill="none" stroke="#ff0000" stroke-width="1.4" stroke-linejoin="round"/><path d="M59.8,381.7a1.65,1.65 0 1,0 3.3,0a1.65,1.65 0 1,0 -3.3,0zM62,333.7a1.65,1.65 0 1,0 3.3,0a1.65,1.65 0 1,0 -3.3,0zM64.3,307.9a1.65,1.65 0 1,0 3.3,0a1.65,1.65 0 1,0 -3.3,0zM66.6,292.5a1.65,1.65 0 1,0 3.3,0a1.65,1.65 0 1,0 -3.3,0zM68.8,282.6a1.65,1.65 0 1,0 3.3,0a1.65,1.65 0 1,0 -3.3,0zM71.1,275.8a1.65,1.65 0 1,0 3.3,0a1.65,1.65 0 1,0 -3.3,0zM73.4,271a1.65,1.65 0 1,0 3.3,0a1.65,1.65 0 1,0 -3.3,0zM75.7,267.4a1.65,1.65 0 1,0 3.3,0a1.65,1.65 0 1,0 -3.3,0zM77.9,264.7a1.65,1.65 0 1,0 3.3,0a1.65,1.65 0 1,0 -3.3,0zM80.2,262.7a1.65,1.65 0 1,0 3.3,0a1.65,1.65 0 1,0 -3.3,0zM82.5,261a1.65,1.65 0 1,0 3.3,0a1.65,1.65 0 1,0 -3.3,0zM84.7,259.7a1.65,1.65 0 1,0 3.3,0a1.65,1.65 0 1,0 -3.3,0zM87,258.6a1.65,1.65 0 1,0 3.3,0a1.65,1.65 0 1,0 -3.3,0zM89.3,257.7a1.65,1.65 0 1,0 3.3,0a1.65,1.65 0 1,0 -3.3,0zM91.6,257a1.65,1.65 0 1,0 3.3,0a1.65,1.65 0 1,0 -3.3,0zM93.8,256.4a1.65,1.65 0 1,0 3.3,0a1.65,1.65 0 1,0 -3.3,0zM96.1,255.8a1.65,1.65 0 1,0 3.3,0a1.65,1.65 0 1,0 -3.3,0zM98.4,255.4a1.65,1.65 0 1,0 3.3,0a1.65,1.65 0 1,0 -3.3,0zM100.6,255a1.65,1.65 0 1,0 3.3,0a1.65,1.65 0 1,0 -3.3,0zM102.9,254.6a1.65,1.65 0 1,0 3.3,0a1.65,1.65 0 1,0 -3.3,0zM105.2,254.3a1.65,1.65 0 1,0 3.3,0a1.65,1.65 0 1,0 -3.3,0zM107.5,254.1a1.65,1.65 0 1,0 3.3,0a1.65,1.65 0 1,0 -3.3,0zM109.7,253.8a1.65,1.65 0 1,0 3.3,0a1.65,1.65 0 1,0 -3.3,0zM112,253.6a1.65,1.65 0 1,0 3.3,0a1.65,1.65 0 1,0 -3.3,0zM114.3,253.4a1.65,1.65 0 1,0 3.3,0a1.65,1.65 0 1,0 -3.3,0zM116.5,253.3a1.65,1.65 0 1,0 3.3,0a1.65,1.65 0 1,0 -3.3,0zM118.8,253.1a1.65,1.65 0 1,0 3.3,0a1.65,1.65 0 1,0 -3.3,0zM121.1,253a1.65,1.65 0 1,0 3.3,0a1.65,1.65 0 1,0 -3.3,0zM123.4,252.8a1.65,1.65 0 1,0 3.3,0a1.65,1.65 0 1,0 -3.3,0zM125.6,252.7a1.65,1.65 0 1,0 3.3,0a1.65,1.65 0 1,0 -3.3,0zM127.9,252.6a1.65,1.65 0 1,0 3.3,0a1.65,1.65 0 1,0 -3.3,0zM130.2,252.5a1.65,1.65 0 1,0 3.3,0a1.65,1.65 0 1,0 -3.3,0zM132.5,252.4a1.65,1.65 0 1,0 3.3,0a1.65,1.65 0 1,0 -3.3,0zM134.7,252.4a1.65,1.65 0 1,0 3.3,0a1.65,1.65 0 1,0 -3.3,0zM137,252.3a1.65,1.65 0 1,0 3.3,0a1.65,1.65 0 1,0 -3.3,0zM139.3,252.2a1.65,1.65 0 1,0 3.3,0a1.65,1.65 0 1,0 -3.3,0zM141.5,252.2a1.65,1.65 0 1,0 3.3,0a1.65,1.65 0 1,0 -3.3,0zM143.8,252.1a1.65,1.65 0 1,0 3.3,0a1.65,1.65 0 1,0 -3.3,0zM146.1,252.1a1.65,1.65 0 1,0 3.3,0a1.65,1.65 0 1,0 -3.3,0zM148.4,252a1.65,1.65 0 1,0 3.3,0a1.65,1.65 0 1,0 -3.3,0zM150.6,252a1.65,1.65 0 1,0 3.3,0a1.65,1.65 0 1,0 -3.3,0zM152.9,251.9a1.65,1.65 0 1,0 3.3,0a1.65,1.65 0 1,0 -3.3,0zM155.2,251.9a1.65,1.65 0 1,0 3.3,0a1.65,1.65 0 1,0 -3.3,0zM157.4,251.8a1.65,1.65 0 1,0 3.3,0a1.65,1.65 0 1,0 -3.3,0zM159.7,251.8a1.65,1.65 0 1,0 3.3,0a1.65,1.65 0 1,0 -3.3,0zM162,251.8a1.65,1.65 0 1,0 3.3,0a1.65,1.65 0 1,0 -3.3,0zM164.3,251.7a1.65,1.65 0 1,0 3.3,0a1.65,1.65 0 1,0 -3.3,0zM166.5,251.7a1.65,1.65 0 1,0 3.3,0a1.65,1.65 0 1,0 -3.3,0zM168.8,251.7a1.65,1.65 0 1,0 3.3,0a1.65,1.65 0 1,0 -3.3,0zM171.1,251.7a1.65,1.65 0 1,0 3.3,0a1.65,1.65 0 1,0 -3.3,0zM173.3,251.6a1.65,1.65 0 1,0 3.3,0a1.65,1.65 0 1,0 -3.3,0zM175.6,251.6a1.65,1.65 0 1,0 3.3,0a1.65,1.65 0 1,0 -3.3,0zM177.9,251.6a1.65,1.65 0 1,0 3.3,0a1.65,1.65 0 1,0 -3.3,0zM180.2,251.6a1.65,1.65 0 1,0 3.3,0a1.65,1.65 0 1,0 -3.3,0zM182.4,251.5a1.65,1.65 0 1,0 3.3,0a1.65,1.65 0 1,0 -3.3,0zM184.7,251.5a1.65,1.65 0 1,0 3.3,0a1.65,1.65 0 1,0 -3.3,0zM187,251.5a1.65,1.65 0 1,0 3.3,0a1.65,1.65 0 1,0 -3.3,0zM189.3,251.5a1.65,1.65 0 1,0 3.3,0a1.65,1.65 0 1,0 -3.3,0zM191.5,251.5a1.65,1.65 0 1,0 3.3,0a1.65,1.65 0 1,0 -3.3,0zM193.8,251.5a1.65,1.65 0 1,0 3.3,0a1.65,1.65 0 1,0 -3.3,0zM196.1,251.4a1.65,1.65 0 1,0 3.3,0a1.65,1.65 0 1,0 -3.3,0zM198.3,251.4a1.65,1.65 0 1,0 3.3,0a1.65,1.65 0 1,0 -3.3,0zM200.6,251.4a1.65,1.65 0 1,0 3.3,0a1.65,1.65 0 1,0 -3.3,0zM202.9,251.4a1.65,1.65 0 1,0 3.3,0a1.65,1.65 0 1,0 -3.3,0zM205.2,251.4a1.65,1.65 0 1,0 3.3,0a1.65,1.65 0 1,0 -3.3,0zM207.4,251.4a1.65,1.65 0 1,0 3.3,0a1.65,1.65 0 1,0 -3.3,0zM209.7,251.4a1.65,1.65 0 1,0 3.3,0a1.65,1.65 0 1,0 -3.3,0zM212,251.4a1.65,1.65 0 1,0 3.3,0a1.65,1.65 0 1,0 -3.3,0zM214.2,251.3a1.65,1.65 0 1,0 3.3,0a1.65,1.65 0 1,0 -3.3,0zM216.5,251.3a1.65,1.65 0 1,0 3.3,0a1.65,1.65 0 1,0 -3.3,0zM218.8,251.3a1.65,1.65 0 1,0 3.3,0a1.65,1.65 0 1,0 -3.3,0zM221.1,251.3a1.65,1.65 0 1,0 3.3,0a1.65,1.65 0 1,0 -3.3,0zM223.3,251.3a1.65,1.65 0 1,0 3.3,0a1.65,1.65 0 1,0 -3.3,0zM225.6,251.3a1.65,1.65 0 1,0 3.3,0a1.65,1.65 0 1,0 -3.3,0zM227.9,251.3a1.65,1.65 0 1,0 3.3,0a1.65,1.65 0 1,0 -3.3,0zM230.1,251.3a1.65,1.65 0 1,0 3.3,0a1.65,1.65 0 1,0 -3.3,0zM232.4,251.3a1.65,1.65 0 1,0 3.3,0a1.65,1.65 0 1,0 -3.3,0zM234.7,251.3a1.65,1.65 0 1,0 3.3,0a1.65,1.65 0 1,0 -3.3,0zM237,251.3a1.65,1.65 0 1,0 3.3,0a1.65,1.65 0 1,0 -3.3,0zM239.2,251.3a1.65,1.65 0 1,0 3.3,0a1.65,1.65 0 1,0 -3.3,0zM241.5,251.3a1.65,1.65 0 1,0 3.3,0a1.65,1.65 0 1,0 -3.3,0zM243.8,251.2a1.65,1.65 0 1,0 3.3,0a1.65,1.65 0 1,0 -3.3,0zM246.1,251.2a1.65,1.65 0 1,0 3.3,0a1.65,1.65 0 1,0 -3.3,0zM248.3,251.2a1.65,1.65 0 1,0 3.3,0a1.65,1.65 0 1,0 -3.3,0zM250.6,251.2a1.65,1.65 0 1,0 3.3,0a1.65,1.65 0 1,0 -3.3,0zM252.9,251.2a1.65,1.65 0 1,0 3.3,0a1.65,1.65 0 1,0 -3.3,0zM255.1,251.2a1.65,1.65 0 1,0 3.3,0a1.65,1.65 0 1,0 -3.3,0zM257.4,251.2a1.65,1.65 0 1,0 3.3,0a1.65,1.65 0 1,0 -3.3,0zM259.7,251.2a1.65,1.65 0 1,0 3.3,0a1.65,1.65 0 1,0 -3.3,0zM262,251.2a1.65,1.65 0 1,0 3.3,0a1.65,1.65 0 1,0 -3.3,0zM264.2,251.2a1.65,1.65 0 1,0 3.3,0a1.65,1.65 0 1,0 -3.3,0zM266.5,251.2a1.65,1.65 0 1,0 3.3,0a1.65,1.65 0 1,0 -3.3,0zM268.8,251.2a1.65,1.65 0 1,0 3.3,0a1.65,1.65 0 1,0 -3.3,0zM271,251.2a1.65,1.65 0 1,0 3.3,0a1.65,1.65 0 1,0 -3.3,0zM273.3,251.2a1.65,1.65 0 1,0 3.3,0a1.65,1.65 0 1,0 -3.3,0zM275.6,251.2a1.65,1.65 0 1,0 3.3,0a1.65,1.65 0 1,0 -3.3,0zM277.9,251.2a1.65,1.65 0 1,0 3.3,0a1.65,1.65 0 1,0 -3.3,0z" fill="#ff0000" stroke="#ff0000" stroke-width="0.5"/><polyline points="61.4,251 63.7,251 65.9,251 68.2,251 70.5,251 72.8,251 75,251 77.3,251 79.6,251 81.8,251 84.1,251 86.4,251 88.7,251 90.9,251 93.2,251 95.5,251 97.8,251 100,251 102.3,251 104.6,251 106.8,251 109.1,251 111.4,251 113.7,251 115.9,251 118.2,251 120.5,251 122.7,251 125,251 127.3,251 129.6,251 131.8,251.1 134.1,251.2 136.4,251.4 138.6,251.8 140.9,252.2 143.2,252.6 145.5,255 147.7,258.7 150,265.2 152.3,276.2 154.5,289.7 156.8,306.4 159,325.5 161.2,344.3 163.4,361.5 165.5,375.2 167.6,381.7 169.9,379.6 172.3,361.5 174.6,348.3 176.8,338.7 179,332.5 181.2,327.3 183.4,322 185.7,318.3 187.9,315.6 190.2,311.2 192.4,307.3 194.7,305.7 197,301.5 199.3,300.9 201.5,297 203.8,297 206.1,293 208.3,292.7 210.6,288.6 212.9,288.3 215.2,285.1 217.4,285.6 219.7,282.6 222,283.1 224.3,280.4 226.5,280.6 228.8,278.7 231.1,279.3 233.3,276.9 235.6,277.1 237.9,274.9 240.2,274.9 242.4,273.2 244.7,273.3 247,271.2 249.2,271.5 251.5,270.3 253.8,270.7 256.1,268.6 258.3,269.5 260.6,267.8 262.9,268 265.1,266.8 267.4,267.4 269.7,266.2 272,265.9 274.2,265.2 276.5,265.1 278.8,264.5" fill="none" stroke="#0000ff" stroke-width="1.3" stroke-linejoin="round"/><path d="M61.4,248.3l2.7,5.4h-5.4zM63.7,248.3l2.7,5.4h-5.4zM65.9,248.3l2.7,5.4h-5.4zM68.2,248.3l2.7,5.4h-5.4zM70.5,248.3l2.7,5.4h-5.4zM72.8,248.3l2.7,5.4h-5.4zM75,248.3l2.7,5.4h-5.4zM77.3,248.3l2.7,5.4h-5.4zM79.6,248.3l2.7,5.4h-5.4zM81.8,248.3l2.7,5.4h-5.4zM84.1,248.3l2.7,5.4h-5.4zM86.4,248.3l2.7,5.4h-5.4zM88.7,248.3l2.7,5.4h-5.4zM90.9,248.3l2.7,5.4h-5.4zM93.2,248.3l2.7,5.4h-5.4zM95.5,248.3l2.7,5.4h-5.4zM97.8,248.3l2.7,5.4h-5.4zM100,248.3l2.7,5.4h-5.4zM102.3,248.3l2.7,5.4h-5.4zM104.6,248.3l2.7,5.4h-5.4zM106.8,248.3l2.7,5.4h-5.4zM109.1,248.3l2.7,5.4h-5.4zM111.4,248.3l2.7,5.4h-5.4zM113.7,248.3l2.7,5.4h-5.4zM115.9,248.3l2.7,5.4h-5.4zM118.2,248.3l2.7,5.4h-5.4zM120.5,248.3l2.7,5.4h-5.4zM122.7,248.3l2.7,5.4h-5.4zM125,248.3l2.7,5.4h-5.4zM127.3,248.3l2.7,5.4h-5.4zM129.6,248.3l2.7,5.4h-5.4zM131.8,248.4l2.7,5.4h-5.4zM134.1,248.5l2.7,5.4h-5.4zM136.4,248.8l2.7,5.4h-5.4zM138.6,249.1l2.7,5.4h-5.4zM140.9,249.6l2.7,5.4h-5.4zM143.2,249.9l2.7,5.4h-5.4zM145.5,252.3l2.7,5.4h-5.4zM147.7,256l2.7,5.4h-5.4zM150,262.5l2.7,5.4h-5.4zM152.3,273.5l2.7,5.4h-5.4zM154.5,287l2.7,5.4h-5.4zM156.8,303.7l2.7,5.4h-5.4zM159,322.8l2.7,5.4h-5.4zM161.2,341.6l2.7,5.4h-5.4zM163.4,358.8l2.7,5.4h-5.4zM165.5,372.5l2.7,5.4h-5.4zM167.6,379l2.7,5.4h-5.4zM169.9,376.9l2.7,5.4h-5.4zM172.3,358.8l2.7,5.4h-5.4zM174.6,345.6l2.7,5.4h-5.4zM176.8,336l2.7,5.4h-5.4zM179,329.8l2.7,5.4h-5.4zM181.2,324.6l2.7,5.4h-5.4zM183.4,319.3l2.7,5.4h-5.4zM185.7,315.6l2.7,5.4h-5.4zM187.9,312.9l2.7,5.4h-5.4zM190.2,308.5l2.7,5.4h-5.4zM192.4,304.6l2.7,5.4h-5.4zM194.7,303l2.7,5.4h-5.4zM197,298.8l2.7,5.4h-5.4zM199.3,298.2l2.7,5.4h-5.4zM201.5,294.3l2.7,5.4h-5.4zM203.8,294.3l2.7,5.4h-5.4zM206.1,290.3l2.7,5.4h-5.4zM208.3,290l2.7,5.4h-5.4zM210.6,285.9l2.7,5.4h-5.4zM212.9,285.6l2.7,5.4h-5.4zM215.2,282.4l2.7,5.4h-5.4zM217.4,282.9l2.7,5.4h-5.4zM219.7,279.9l2.7,5.4h-5.4zM222,280.4l2.7,5.4h-5.4zM224.3,277.7l2.7,5.4h-5.4zM226.5,277.9l2.7,5.4h-5.4zM228.8,276l2.7,5.4h-5.4zM231.1,276.6l2.7,5.4h-5.4zM233.3,274.2l2.7,5.4h-5.4zM235.6,274.4l2.7,5.4h-5.4zM237.9,272.2l2.7,5.4h-5.4zM240.2,272.2l2.7,5.4h-5.4zM242.4,270.5l2.7,5.4h-5.4zM244.7,270.6l2.7,5.4h-5.4zM247,268.5l2.7,5.4h-5.4zM249.2,268.8l2.7,5.4h-5.4zM251.5,267.6l2.7,5.4h-5.4zM253.8,268l2.7,5.4h-5.4zM256.1,265.9l2.7,5.4h-5.4zM258.3,266.8l2.7,5.4h-5.4zM260.6,265.1l2.7,5.4h-5.4zM262.9,265.3l2.7,5.4h-5.4zM265.1,264.1l2.7,5.4h-5.4zM267.4,264.7l2.7,5.4h-5.4zM269.7,263.5l2.7,5.4h-5.4zM272,263.2l2.7,5.4h-5.4zM274.2,262.5l2.7,5.4h-5.4zM276.5,262.4l2.7,5.4h-5.4zM278.8,261.8l2.7,5.4h-5.4z" fill="#0000ff" stroke="#0000ff" stroke-width="1" stroke-linejoin="miter"/></g>
<rect x="50.65" y="244.4" width="238.8" height="144.05" fill="none" stroke="#111" stroke-width="0.85"/>
<line x1="97.5" y1="388.45" x2="97.5" y2="385.45" stroke="#111" stroke-width="0.8"/><line x1="143" y1="388.45" x2="143" y2="385.45" stroke="#111" stroke-width="0.8"/><line x1="188.6" y1="388.45" x2="188.6" y2="385.45" stroke="#111" stroke-width="0.8"/><line x1="234" y1="388.45" x2="234" y2="385.45" stroke="#111" stroke-width="0.8"/><line x1="279.5" y1="388.45" x2="279.5" y2="385.45" stroke="#111" stroke-width="0.8"/>
<line x1="50.6" y1="250.9" x2="53.6" y2="250.9" stroke="#111" stroke-width="0.8"/><line x1="50.6" y1="285.3" x2="53.6" y2="285.3" stroke="#111" stroke-width="0.8"/><line x1="50.6" y1="319.8" x2="53.6" y2="319.8" stroke="#111" stroke-width="0.8"/><line x1="50.6" y1="354.3" x2="53.6" y2="354.3" stroke="#111" stroke-width="0.8"/>
<line x1="289.45" y1="250.9" x2="286.4" y2="250.9" stroke="#111" stroke-width="0.8"/><line x1="289.45" y1="293.6" x2="286.4" y2="293.6" stroke="#111" stroke-width="0.8"/><line x1="289.45" y1="336.4" x2="286.4" y2="336.4" stroke="#111" stroke-width="0.8"/><line x1="289.45" y1="379.4" x2="286.4" y2="379.4" stroke="#111" stroke-width="0.8"/>
<text transform="translate(97.5,400.8) scale(0.93,1.035)" font-size="13.4" text-anchor="middle">0.05</text>
<text transform="translate(143,400.8) scale(0.93,1.035)" font-size="13.4" text-anchor="middle">0.10</text>
<text transform="translate(188.6,400.8) scale(0.93,1.035)" font-size="13.4" text-anchor="middle">0.15</text>
<text transform="translate(234,400.8) scale(0.93,1.035)" font-size="13.4" text-anchor="middle">0.20</text>
<text transform="translate(279.5,400.8) scale(0.93,1.035)" font-size="13.4" text-anchor="middle">0.25</text>
<text transform="translate(48,255.7) scale(0.93,1.035)" font-size="13.4" text-anchor="end">0.0</text>
<text transform="translate(48,290.1) scale(0.93,1.035)" font-size="13.4" text-anchor="end">2.0</text><line x1="22.9" y1="286.7" x2="31.1" y2="286.7" stroke="#000" stroke-width="0.85"/>
<text transform="translate(48,324.6) scale(0.93,1.035)" font-size="13.4" text-anchor="end">4.0</text><line x1="22.9" y1="321.2" x2="31.1" y2="321.2" stroke="#000" stroke-width="0.85"/>
<text transform="translate(48,359.1) scale(0.93,1.035)" font-size="13.4" text-anchor="end">6.0</text><line x1="22.9" y1="355.7" x2="31.1" y2="355.7" stroke="#000" stroke-width="0.85"/>
<text transform="translate(291.6,255.7) scale(0.93,1.035)" font-size="13.4" text-anchor="start">0.0</text>
<line x1="292.4" y1="295" x2="300.6" y2="295" stroke="#000" stroke-width="0.85"/><text transform="translate(301.9,298.4) scale(0.93,1.035)" font-size="13.4" text-anchor="start">1.0</text>
<line x1="292.4" y1="337.8" x2="300.6" y2="337.8" stroke="#000" stroke-width="0.85"/><text transform="translate(301.9,341.2) scale(0.93,1.035)" font-size="13.4" text-anchor="start">2.0</text>
<line x1="292.4" y1="380.8" x2="300.6" y2="380.8" stroke="#000" stroke-width="0.85"/><text transform="translate(301.9,384.2) scale(0.93,1.035)" font-size="13.4" text-anchor="start">3.0</text>
<text x="51.1" y="245" font-size="18">×</text><text transform="translate(61.9,242.2) scale(0.93,1.035)" font-size="13.4" text-anchor="start">10</text><line x1="74.7" y1="235.2" x2="80.6" y2="235.2" stroke="#000" stroke-width="0.75"/><text x="81.1" y="237.9" font-size="10.2">5</text>
<text x="255.1" y="245" font-size="18">×</text><text transform="translate(265.9,242.2) scale(0.93,1.035)" font-size="13.4" text-anchor="start">10</text><line x1="278.7" y1="235.2" x2="284.6" y2="235.2" stroke="#000" stroke-width="0.75"/><text x="285.1" y="237.9" font-size="10.2">8</text>
<text x="170.0" y="417.1" font-size="16.6" text-anchor="middle" >Ω</text>
<text x="1.9" y="251.6" font-size="20.5" text-anchor="start" >(c)</text>
<path d="M69.6,267.6H54.5M58.1,265.6L54.5,267.6L58.1,269.6" fill="none" stroke="#ff0000" stroke-width="0.9"/>
<path d="M225.4,302.4H249.9M246.3,300.4L249.9,302.4L246.3,304.4" fill="none" stroke="#0000ff" stroke-width="0.9"/>
<g clip-path="url(#cd)"><polyline points="430.2,242.9 433.7,242.9 437.3,242.9 440.8,242.9 444.3,242.9 447.9,242.9 451.4,242.9 455,242.9 458.5,242.9 462,242.9 465.6,242.9 469.1,242.9 472.6,242.9 476.2,242.9 479.7,242.9 483.3,242.9 486.8,242.9 490.3,243.1 493.9,243.4 497.4,244.4 500.9,246.3 504.5,250.5 508,256.2 511.6,263.1 515.1,270.2 518.6,278.1 522.2,287.9 525.7,297.6 529.2,303.8 532.8,307.8 536.3,309.4 539.9,312.8 543.4,311.5 546.9,313.6 550.5,314.2 554,312 557.5,312.8 561.1,310.4 564.6,310.7 568.1,308.3 571.7,308 575.2,306.2 578.8,305.4 582.3,304.1 585.8,303 589.4,301.5 592.9,300.5 596.4,299.3 600,297.9 603.5,296.4 607.1,295.1 610.6,294.1 614.1,293 617.7,292 621.2,290.9 624.7,289.8 628.3,288.8 631.8,287.7 635.4,286.7 638.9,285.7 642.4,284.9 646,284.1 649.5,283.3" fill="none" stroke="#0000ff" stroke-width="1.4" stroke-linejoin="round"/><path d="M430.2,240.1l2.8,5.6h-5.6zM433.7,240.1l2.8,5.6h-5.6zM437.3,240.1l2.8,5.6h-5.6zM440.8,240.1l2.8,5.6h-5.6zM444.3,240.1l2.8,5.6h-5.6zM447.9,240.1l2.8,5.6h-5.6zM451.4,240.1l2.8,5.6h-5.6zM455,240.1l2.8,5.6h-5.6zM458.5,240.1l2.8,5.6h-5.6zM462,240.1l2.8,5.6h-5.6zM465.6,240.1l2.8,5.6h-5.6zM469.1,240.1l2.8,5.6h-5.6zM472.6,240.1l2.8,5.6h-5.6zM476.2,240.1l2.8,5.6h-5.6zM479.7,240.1l2.8,5.6h-5.6zM483.3,240.1l2.8,5.6h-5.6zM486.8,240.1l2.8,5.6h-5.6zM490.3,240.3l2.8,5.6h-5.6zM493.9,240.6l2.8,5.6h-5.6zM497.4,241.6l2.8,5.6h-5.6zM500.9,243.5l2.8,5.6h-5.6zM504.5,247.7l2.8,5.6h-5.6zM508,253.4l2.8,5.6h-5.6zM511.6,260.3l2.8,5.6h-5.6zM515.1,267.4l2.8,5.6h-5.6zM518.6,275.3l2.8,5.6h-5.6zM522.2,285.1l2.8,5.6h-5.6zM525.7,294.8l2.8,5.6h-5.6zM529.2,301l2.8,5.6h-5.6zM532.8,305l2.8,5.6h-5.6zM536.3,306.6l2.8,5.6h-5.6zM539.9,310l2.8,5.6h-5.6zM543.4,308.7l2.8,5.6h-5.6zM546.9,310.8l2.8,5.6h-5.6zM550.5,311.4l2.8,5.6h-5.6zM554,309.2l2.8,5.6h-5.6zM557.5,310l2.8,5.6h-5.6zM561.1,307.6l2.8,5.6h-5.6zM564.6,307.9l2.8,5.6h-5.6zM568.1,305.5l2.8,5.6h-5.6zM571.7,305.2l2.8,5.6h-5.6zM575.2,303.4l2.8,5.6h-5.6zM578.8,302.6l2.8,5.6h-5.6zM582.3,301.3l2.8,5.6h-5.6zM585.8,300.2l2.8,5.6h-5.6zM589.4,298.7l2.8,5.6h-5.6zM592.9,297.7l2.8,5.6h-5.6zM596.4,296.5l2.8,5.6h-5.6zM600,295.1l2.8,5.6h-5.6zM603.5,293.6l2.8,5.6h-5.6zM607.1,292.3l2.8,5.6h-5.6zM610.6,291.3l2.8,5.6h-5.6zM614.1,290.2l2.8,5.6h-5.6zM617.7,289.2l2.8,5.6h-5.6zM621.2,288.1l2.8,5.6h-5.6zM624.7,287l2.8,5.6h-5.6zM628.3,286l2.8,5.6h-5.6zM631.8,284.9l2.8,5.6h-5.6zM635.4,283.9l2.8,5.6h-5.6zM638.9,282.9l2.8,5.6h-5.6zM642.4,282.1l2.8,5.6h-5.6zM646,281.3l2.8,5.6h-5.6zM649.5,280.5l2.8,5.6h-5.6z" fill="#0000ff" stroke="#0000ff" stroke-width="1" stroke-linejoin="miter"/><polyline points="421,250.1 423.7,249.6 426.3,249.1 429,248.8 431.6,248.6 434.3,248.3 436.9,248.2 439.6,248 442.3,247.9 444.9,247.8 447.6,247.7 450.2,247.7 452.9,247.6 455.5,247.6 458.2,247.6 460.8,247.6 463.5,247.6 466.2,247.5 468.8,247.5 471.5,247.5 474.1,247.5 476.8,247.5 479.4,247.5 482.1,247.6 484.8,247.6 487.4,247.6 490.1,247.6 492.7,247.8 495.4,248.1 498,249.2 500.7,251.2 503.3,254.3 506,257.8 508.7,262.4 511.3,267.3 514,272.2 516.6,277.8 519.3,284.3 521.9,291.7 524.6,300.2 527.3,304 529.9,308.3 532.6,310.5 535.2,312.6 537.9,313.2 540.5,315.3 543.2,312.7 545.9,317.1 548.5,312.7 551.2,316.8 553.8,312.8 556.5,314 559.1,313.1 561.8,310.6 564.4,312.6 567.1,309 569.8,310 572.4,309 575.1,306.3 577.7,307.9 580.4,304.8 583,304.8 585.7,304 588.4,301.8 591,300.6 593.7,300.8 596.3,299 599,298.8 601.6,296.9 604.3,296.7 606.9,294.8 609.6,294.9 612.3,293.2 614.9,293.3 617.6,291.7 620.2,291.7 622.9,290 625.5,290.1 628.2,288.4 630.9,288.6 633.5,286.9 636.2,287 638.8,285.4 641.5,285.7 644.1,284.2 646.8,284.5 649.5,283" fill="none" stroke="#ff0000" stroke-width="1.4" stroke-linejoin="round"/><path d="M419.4,250.1a1.65,1.65 0 1,0 3.3,0a1.65,1.65 0 1,0 -3.3,0zM422,249.6a1.65,1.65 0 1,0 3.3,0a1.65,1.65 0 1,0 -3.3,0zM424.7,249.1a1.65,1.65 0 1,0 3.3,0a1.65,1.65 0 1,0 -3.3,0zM427.3,248.8a1.65,1.65 0 1,0 3.3,0a1.65,1.65 0 1,0 -3.3,0zM430,248.6a1.65,1.65 0 1,0 3.3,0a1.65,1.65 0 1,0 -3.3,0zM432.6,248.3a1.65,1.65 0 1,0 3.3,0a1.65,1.65 0 1,0 -3.3,0zM435.3,248.2a1.65,1.65 0 1,0 3.3,0a1.65,1.65 0 1,0 -3.3,0zM437.9,248a1.65,1.65 0 1,0 3.3,0a1.65,1.65 0 1,0 -3.3,0zM440.6,247.9a1.65,1.65 0 1,0 3.3,0a1.65,1.65 0 1,0 -3.3,0zM443.3,247.8a1.65,1.65 0 1,0 3.3,0a1.65,1.65 0 1,0 -3.3,0zM445.9,247.7a1.65,1.65 0 1,0 3.3,0a1.65,1.65 0 1,0 -3.3,0zM448.6,247.7a1.65,1.65 0 1,0 3.3,0a1.65,1.65 0 1,0 -3.3,0zM451.2,247.6a1.65,1.65 0 1,0 3.3,0a1.65,1.65 0 1,0 -3.3,0zM453.9,247.6a1.65,1.65 0 1,0 3.3,0a1.65,1.65 0 1,0 -3.3,0zM456.5,247.6a1.65,1.65 0 1,0 3.3,0a1.65,1.65 0 1,0 -3.3,0zM459.2,247.6a1.65,1.65 0 1,0 3.3,0a1.65,1.65 0 1,0 -3.3,0zM461.9,247.6a1.65,1.65 0 1,0 3.3,0a1.65,1.65 0 1,0 -3.3,0zM464.5,247.5a1.65,1.65 0 1,0 3.3,0a1.65,1.65 0 1,0 -3.3,0zM467.2,247.5a1.65,1.65 0 1,0 3.3,0a1.65,1.65 0 1,0 -3.3,0zM469.8,247.5a1.65,1.65 0 1,0 3.3,0a1.65,1.65 0 1,0 -3.3,0zM472.5,247.5a1.65,1.65 0 1,0 3.3,0a1.65,1.65 0 1,0 -3.3,0zM475.1,247.5a1.65,1.65 0 1,0 3.3,0a1.65,1.65 0 1,0 -3.3,0zM477.8,247.5a1.65,1.65 0 1,0 3.3,0a1.65,1.65 0 1,0 -3.3,0zM480.4,247.6a1.65,1.65 0 1,0 3.3,0a1.65,1.65 0 1,0 -3.3,0zM483.1,247.6a1.65,1.65 0 1,0 3.3,0a1.65,1.65 0 1,0 -3.3,0zM485.8,247.6a1.65,1.65 0 1,0 3.3,0a1.65,1.65 0 1,0 -3.3,0zM488.4,247.6a1.65,1.65 0 1,0 3.3,0a1.65,1.65 0 1,0 -3.3,0zM491.1,247.8a1.65,1.65 0 1,0 3.3,0a1.65,1.65 0 1,0 -3.3,0zM493.7,248.1a1.65,1.65 0 1,0 3.3,0a1.65,1.65 0 1,0 -3.3,0zM496.4,249.2a1.65,1.65 0 1,0 3.3,0a1.65,1.65 0 1,0 -3.3,0zM499,251.2a1.65,1.65 0 1,0 3.3,0a1.65,1.65 0 1,0 -3.3,0zM501.7,254.3a1.65,1.65 0 1,0 3.3,0a1.65,1.65 0 1,0 -3.3,0zM504.4,257.8a1.65,1.65 0 1,0 3.3,0a1.65,1.65 0 1,0 -3.3,0zM507,262.4a1.65,1.65 0 1,0 3.3,0a1.65,1.65 0 1,0 -3.3,0zM509.7,267.3a1.65,1.65 0 1,0 3.3,0a1.65,1.65 0 1,0 -3.3,0zM512.3,272.2a1.65,1.65 0 1,0 3.3,0a1.65,1.65 0 1,0 -3.3,0zM515,277.8a1.65,1.65 0 1,0 3.3,0a1.65,1.65 0 1,0 -3.3,0zM517.6,284.3a1.65,1.65 0 1,0 3.3,0a1.65,1.65 0 1,0 -3.3,0zM520.3,291.7a1.65,1.65 0 1,0 3.3,0a1.65,1.65 0 1,0 -3.3,0zM522.9,300.2a1.65,1.65 0 1,0 3.3,0a1.65,1.65 0 1,0 -3.3,0zM525.6,304a1.65,1.65 0 1,0 3.3,0a1.65,1.65 0 1,0 -3.3,0zM528.3,308.3a1.65,1.65 0 1,0 3.3,0a1.65,1.65 0 1,0 -3.3,0zM530.9,310.5a1.65,1.65 0 1,0 3.3,0a1.65,1.65 0 1,0 -3.3,0zM533.6,312.6a1.65,1.65 0 1,0 3.3,0a1.65,1.65 0 1,0 -3.3,0zM536.2,313.2a1.65,1.65 0 1,0 3.3,0a1.65,1.65 0 1,0 -3.3,0zM538.9,315.3a1.65,1.65 0 1,0 3.3,0a1.65,1.65 0 1,0 -3.3,0zM541.5,312.7a1.65,1.65 0 1,0 3.3,0a1.65,1.65 0 1,0 -3.3,0zM544.2,317.1a1.65,1.65 0 1,0 3.3,0a1.65,1.65 0 1,0 -3.3,0zM546.9,312.7a1.65,1.65 0 1,0 3.3,0a1.65,1.65 0 1,0 -3.3,0zM549.5,316.8a1.65,1.65 0 1,0 3.3,0a1.65,1.65 0 1,0 -3.3,0zM552.2,312.8a1.65,1.65 0 1,0 3.3,0a1.65,1.65 0 1,0 -3.3,0zM554.8,314a1.65,1.65 0 1,0 3.3,0a1.65,1.65 0 1,0 -3.3,0zM557.5,313.1a1.65,1.65 0 1,0 3.3,0a1.65,1.65 0 1,0 -3.3,0zM560.1,310.6a1.65,1.65 0 1,0 3.3,0a1.65,1.65 0 1,0 -3.3,0zM562.8,312.6a1.65,1.65 0 1,0 3.3,0a1.65,1.65 0 1,0 -3.3,0zM565.5,309a1.65,1.65 0 1,0 3.3,0a1.65,1.65 0 1,0 -3.3,0zM568.1,310a1.65,1.65 0 1,0 3.3,0a1.65,1.65 0 1,0 -3.3,0zM570.8,309a1.65,1.65 0 1,0 3.3,0a1.65,1.65 0 1,0 -3.3,0zM573.4,306.3a1.65,1.65 0 1,0 3.3,0a1.65,1.65 0 1,0 -3.3,0zM576.1,307.9a1.65,1.65 0 1,0 3.3,0a1.65,1.65 0 1,0 -3.3,0zM578.7,304.8a1.65,1.65 0 1,0 3.3,0a1.65,1.65 0 1,0 -3.3,0zM581.4,304.8a1.65,1.65 0 1,0 3.3,0a1.65,1.65 0 1,0 -3.3,0zM584,304a1.65,1.65 0 1,0 3.3,0a1.65,1.65 0 1,0 -3.3,0zM586.7,301.8a1.65,1.65 0 1,0 3.3,0a1.65,1.65 0 1,0 -3.3,0zM589.4,300.6a1.65,1.65 0 1,0 3.3,0a1.65,1.65 0 1,0 -3.3,0zM592,300.8a1.65,1.65 0 1,0 3.3,0a1.65,1.65 0 1,0 -3.3,0zM594.7,299a1.65,1.65 0 1,0 3.3,0a1.65,1.65 0 1,0 -3.3,0zM597.3,298.8a1.65,1.65 0 1,0 3.3,0a1.65,1.65 0 1,0 -3.3,0zM600,296.9a1.65,1.65 0 1,0 3.3,0a1.65,1.65 0 1,0 -3.3,0zM602.6,296.7a1.65,1.65 0 1,0 3.3,0a1.65,1.65 0 1,0 -3.3,0zM605.3,294.8a1.65,1.65 0 1,0 3.3,0a1.65,1.65 0 1,0 -3.3,0zM608,294.9a1.65,1.65 0 1,0 3.3,0a1.65,1.65 0 1,0 -3.3,0zM610.6,293.2a1.65,1.65 0 1,0 3.3,0a1.65,1.65 0 1,0 -3.3,0zM613.3,293.3a1.65,1.65 0 1,0 3.3,0a1.65,1.65 0 1,0 -3.3,0zM615.9,291.7a1.65,1.65 0 1,0 3.3,0a1.65,1.65 0 1,0 -3.3,0zM618.6,291.7a1.65,1.65 0 1,0 3.3,0a1.65,1.65 0 1,0 -3.3,0zM621.2,290a1.65,1.65 0 1,0 3.3,0a1.65,1.65 0 1,0 -3.3,0zM623.9,290.1a1.65,1.65 0 1,0 3.3,0a1.65,1.65 0 1,0 -3.3,0zM626.5,288.4a1.65,1.65 0 1,0 3.3,0a1.65,1.65 0 1,0 -3.3,0zM629.2,288.6a1.65,1.65 0 1,0 3.3,0a1.65,1.65 0 1,0 -3.3,0zM631.9,286.9a1.65,1.65 0 1,0 3.3,0a1.65,1.65 0 1,0 -3.3,0zM634.5,287a1.65,1.65 0 1,0 3.3,0a1.65,1.65 0 1,0 -3.3,0zM637.2,285.4a1.65,1.65 0 1,0 3.3,0a1.65,1.65 0 1,0 -3.3,0zM639.8,285.7a1.65,1.65 0 1,0 3.3,0a1.65,1.65 0 1,0 -3.3,0zM642.5,284.2a1.65,1.65 0 1,0 3.3,0a1.65,1.65 0 1,0 -3.3,0zM645.1,284.5a1.65,1.65 0 1,0 3.3,0a1.65,1.65 0 1,0 -3.3,0zM647.8,283a1.65,1.65 0 1,0 3.3,0a1.65,1.65 0 1,0 -3.3,0z" fill="#ff0000" stroke="#ff0000" stroke-width="0.5"/></g>
<rect x="409.6" y="242.4" width="251.7" height="151.9" fill="none" stroke="#111" stroke-width="0.85"/>
<line x1="437.3" y1="394.3" x2="437.3" y2="391.3" stroke="#111" stroke-width="0.8"/><line x1="490.4" y1="394.3" x2="490.4" y2="391.3" stroke="#111" stroke-width="0.8"/><line x1="543.5" y1="394.3" x2="543.5" y2="391.3" stroke="#111" stroke-width="0.8"/><line x1="596.7" y1="394.3" x2="596.7" y2="391.3" stroke="#111" stroke-width="0.8"/><line x1="649.8" y1="394.3" x2="649.8" y2="391.3" stroke="#111" stroke-width="0.8"/>
<line x1="409.6" y1="242.6" x2="412.6" y2="242.6" stroke="#111" stroke-width="0.8"/><line x1="409.6" y1="280.4" x2="412.6" y2="280.4" stroke="#111" stroke-width="0.8"/><line x1="409.6" y1="318.2" x2="412.6" y2="318.2" stroke="#111" stroke-width="0.8"/><line x1="409.6" y1="356.6" x2="412.6" y2="356.6" stroke="#111" stroke-width="0.8"/><line x1="409.6" y1="394.1" x2="412.6" y2="394.1" stroke="#111" stroke-width="0.8"/>
<text transform="translate(437.3,406.8) scale(0.93,1.035)" font-size="13.4" text-anchor="middle">0.05</text>
<text transform="translate(490.4,406.8) scale(0.93,1.035)" font-size="13.4" text-anchor="middle">0.10</text>
<text transform="translate(543.5,406.8) scale(0.93,1.035)" font-size="13.4" text-anchor="middle">0.15</text>
<text transform="translate(596.7,406.8) scale(0.93,1.035)" font-size="13.4" text-anchor="middle">0.20</text>
<text transform="translate(649.8,406.8) scale(0.93,1.035)" font-size="13.4" text-anchor="middle">0.25</text>
<text transform="translate(407,247.4) scale(0.93,1.035)" font-size="13.4" text-anchor="end">0.0</text>
<text transform="translate(407,285.2) scale(0.93,1.035)" font-size="13.4" text-anchor="end">0.5</text><line x1="381.9" y1="281.8" x2="390.1" y2="281.8" stroke="#000" stroke-width="0.85"/>
<text transform="translate(407,323) scale(0.93,1.035)" font-size="13.4" text-anchor="end">1.0</text><line x1="381.9" y1="319.6" x2="390.1" y2="319.6" stroke="#000" stroke-width="0.85"/>
<text transform="translate(407,361.4) scale(0.93,1.035)" font-size="13.4" text-anchor="end">1.5</text><line x1="381.9" y1="358" x2="390.1" y2="358" stroke="#000" stroke-width="0.85"/>
<text transform="translate(407,398.9) scale(0.93,1.035)" font-size="13.4" text-anchor="end">2.0</text><line x1="381.9" y1="395.5" x2="390.1" y2="395.5" stroke="#000" stroke-width="0.85"/>
<text x="410.1" y="243" font-size="18">×</text><text transform="translate(420.9,240.2) scale(0.93,1.035)" font-size="13.4" text-anchor="start">10</text><line x1="433.7" y1="233.2" x2="439.6" y2="233.2" stroke="#000" stroke-width="0.75"/><text x="440.1" y="235.9" font-size="10.2">7</text>
<text x="535.9" y="424.0" font-size="16.6" text-anchor="middle" >Ω</text>
<text x="356.4" y="251.6" font-size="20.5" text-anchor="start" >(d)</text>
<rect x="200" y="102.4" width="93.9" height="55.9" rx="2.4" fill="#fff" fill-opacity="0.8" stroke="#cdcdcd" stroke-width="0.9"/><line x1="206.2" y1="116.3" x2="242.2" y2="116.3" stroke="#0000ff" stroke-width="1.15"/><path d="M224.2,112.8l3.5,6.9h-6.9z" fill="#0000ff" stroke="#0000ff" stroke-width="1" stroke-linejoin="miter"/><line x1="206.2" y1="141.9" x2="242.2" y2="141.9" stroke="#ff0000" stroke-width="1.15"/><path d="M222.5,141.9a1.65,1.65 0 1,0 3.3,0a1.65,1.65 0 1,0 -3.3,0z" fill="#ff0000" stroke="#ff0000" stroke-width="0.5"/><text x="255.2" y="122.9" font-size="15.8" font-style="italic" textLength="9.3" lengthAdjust="spacingAndGlyphs">σ</text><text x="265.1" y="125.4" font-size="11.6">shift</text><text x="255.2" y="148.2" font-size="15.8" font-style="italic" textLength="9.3" lengthAdjust="spacingAndGlyphs">σ</text>
<rect x="561.3" y="102.4" width="88.4" height="55.9" rx="2.4" fill="#fff" fill-opacity="0.8" stroke="#cdcdcd" stroke-width="0.9"/><line x1="567.5" y1="116.3" x2="603.5" y2="116.3" stroke="#008000" stroke-width="1.15"/><path d="M585.5,112.8l3.5,6.9h-6.9z" fill="#008000" stroke="#008000" stroke-width="1" stroke-linejoin="miter"/><line x1="567.5" y1="141.9" x2="603.5" y2="141.9" stroke="#ff0000" stroke-width="1.15"/><path d="M583.9,141.9a1.65,1.65 0 1,0 3.3,0a1.65,1.65 0 1,0 -3.3,0z" fill="#ff0000" stroke="#ff0000" stroke-width="0.5"/><text x="616.4" y="122.9" font-size="15.8" font-style="italic" textLength="9.3" lengthAdjust="spacingAndGlyphs">σ</text><text x="626.3" y="125.4" font-size="11.6">CD</text><text x="616.4" y="148.2" font-size="15.8" font-style="italic" textLength="9.3" lengthAdjust="spacingAndGlyphs">σ</text>
<rect x="418.3" y="328.4" width="94.1" height="56.7" rx="2.4" fill="#fff" fill-opacity="0.8" stroke="#cdcdcd" stroke-width="0.9"/><line x1="425.0" y1="342.1" x2="461.2" y2="342.1" stroke="#0000ff" stroke-width="1.45"/><path d="M443.1,339.6l2.5,5.1h-5.1z" fill="#0000ff" stroke="#0000ff" stroke-width="1" stroke-linejoin="miter"/><line x1="425.0" y1="369.3" x2="461.2" y2="369.3" stroke="#ff0000" stroke-width="1.45"/><path d="M441.5,369.3a1.65,1.65 0 1,0 3.3,0a1.65,1.65 0 1,0 -3.3,0z" fill="#ff0000" stroke="#ff0000" stroke-width="0.5"/><text x="474.4" y="348.7" font-size="15.8" font-style="italic" textLength="9.3" lengthAdjust="spacingAndGlyphs">σ</text><text x="484.3" y="350.8" font-size="11.6">gryo</text><text x="474.4" y="375.6" font-size="15.8" font-style="italic" textLength="9.3" lengthAdjust="spacingAndGlyphs">σ</text>
<g transform="translate(17.0,118.9) rotate(-90)"><g fill="none" stroke="#000" stroke-linecap="round" stroke-linejoin="round"><path d="M3.1,-12.6 Q1.2,-13.1 0.55,-11.8 Q0.1,-10.4 1.2,-9.2 Q2.2,-8.1 2.1,-6.2" stroke-width="1.19"/><path d="M4.45,-11.9 V-1.0" stroke-width="1.81"/><path d="M0.9,-2.8 Q0.7,-0.6 2.2,-0.25 Q3.4,-0.2 4.3,-1.2" stroke-width="1.19"/><path d="M4.9,-11.4 L8.8,-12.4 L11.0,-8.5 L5.6,-7.1" stroke-width="1.62"/><path d="M7.2,-7.2 Q8.1,-5 8.2,-2.2 Q8.5,-0.3 9.9,-0.5 L10.8,-1.6" stroke-width="1.44"/><circle cx="1.0" cy="-5.3" r="0.35" fill="#000" stroke="none"/></g><path d="M18.5,-13.8H17V3.5H18.5" fill="none" stroke="#000" stroke-width="0.8"/><text x="18.5" y="0" font-size="15.8" font-style="italic" textLength="9.6" lengthAdjust="spacingAndGlyphs">σ</text><text x="29.4" y="-7.3" font-size="11.8" font-style="italic" textLength="22.4" lengthAdjust="spacingAndGlyphs">x;yx</text><path d="M52.5,-13.8H54V3.5H52.5" fill="none" stroke="#000" stroke-width="0.8"/></g>
<g transform="translate(373.8,119.4) rotate(-90)"><g fill="none" stroke="#000" stroke-linecap="round" stroke-linejoin="round"><path d="M5.8,-11.8 Q8.4,-11.0 10.0,-8.4" stroke-width="1.22"/><path d="M9.4,-9.0 L10.7,-7.6 M10.8,-9.0 L9.5,-7.5" stroke-width="0.48"/><path d="M5.8,-11.8 Q3.0,-12.6 1.6,-10.9 Q0.5,-9.0 1.5,-7.3 Q2.4,-6.2 3.4,-6.4" stroke-width="0.83"/><path d="M7.9,-6.6 Q9.6,-3.6 8.8,-1.7 Q7.8,-0.1 6.0,-0.5" stroke-width="1.04"/><path d="M6.2,-0.5 Q3.2,-0.9 0.7,-3.3" stroke-width="1.31"/></g><path d="M18.5,-13.8H17V3.5H18.5" fill="none" stroke="#000" stroke-width="0.8"/><text x="18.5" y="0" font-size="15.8" font-style="italic" textLength="9.6" lengthAdjust="spacingAndGlyphs">σ</text><text x="29.4" y="-7.3" font-size="11.8" font-style="italic" textLength="22.4" lengthAdjust="spacingAndGlyphs">x;yx</text><path d="M52.5,-13.8H54V3.5H52.5" fill="none" stroke="#000" stroke-width="0.8"/></g>
<g transform="translate(17.0,345.0) rotate(-90)"><g fill="none" stroke="#000" stroke-linecap="round" stroke-linejoin="round"><path d="M3.1,-12.6 Q1.2,-13.1 0.55,-11.8 Q0.1,-10.4 1.2,-9.2 Q2.2,-8.1 2.1,-6.2" stroke-width="1.19"/><path d="M4.45,-11.9 V-1.0" stroke-width="1.81"/><path d="M0.9,-2.8 Q0.7,-0.6 2.2,-0.25 Q3.4,-0.2 4.3,-1.2" stroke-width="1.19"/><path d="M4.9,-11.4 L8.8,-12.4 L11.0,-8.5 L5.6,-7.1" stroke-width="1.62"/><path d="M7.2,-7.2 Q8.1,-5 8.2,-2.2 Q8.5,-0.3 9.9,-0.5 L10.8,-1.6" stroke-width="1.44"/><circle cx="1.0" cy="-5.3" r="0.35" fill="#000" stroke="none"/></g><path d="M18.5,-13.8H17V3.5H18.5" fill="none" stroke="#000" stroke-width="0.8"/><text x="18.5" y="0" font-size="15.8" font-style="italic" textLength="9.6" lengthAdjust="spacingAndGlyphs">σ</text><text x="29.4" y="-7.3" font-size="11.8" font-style="italic" textLength="22.4" lengthAdjust="spacingAndGlyphs">x;yx</text><path d="M52.5,-13.8H54V3.5H52.5" fill="none" stroke="#000" stroke-width="0.8"/></g>
<g transform="translate(373.8,346.3) rotate(-90)"><g fill="none" stroke="#000" stroke-linecap="round" stroke-linejoin="round"><path d="M5.8,-11.8 Q8.4,-11.0 10.0,-8.4" stroke-width="1.22"/><path d="M9.4,-9.0 L10.7,-7.6 M10.8,-9.0 L9.5,-7.5" stroke-width="0.48"/><path d="M5.8,-11.8 Q3.0,-12.6 1.6,-10.9 Q0.5,-9.0 1.5,-7.3 Q2.4,-6.2 3.4,-6.4" stroke-width="0.83"/><path d="M7.9,-6.6 Q9.6,-3.6 8.8,-1.7 Q7.8,-0.1 6.0,-0.5" stroke-width="1.04"/><path d="M6.2,-0.5 Q3.2,-0.9 0.7,-3.3" stroke-width="1.31"/></g><path d="M18.5,-13.8H17V3.5H18.5" fill="none" stroke="#000" stroke-width="0.8"/><text x="18.5" y="0" font-size="15.8" font-style="italic" textLength="9.6" lengthAdjust="spacingAndGlyphs">σ</text><text x="29.4" y="-7.3" font-size="11.8" font-style="italic" textLength="22.4" lengthAdjust="spacingAndGlyphs">x;yx</text><path d="M52.5,-13.8H54V3.5H52.5" fill="none" stroke="#000" stroke-width="0.8"/></g>
<g transform="translate(326.5,289.2) rotate(90)"><g fill="none" stroke="#000" stroke-linecap="round" stroke-linejoin="round"><path d="M3.1,-12.6 Q1.2,-13.1 0.55,-11.8 Q0.1,-10.4 1.2,-9.2 Q2.2,-8.1 2.1,-6.2" stroke-width="1.19"/><path d="M4.45,-11.9 V-1.0" stroke-width="1.81"/><path d="M0.9,-2.8 Q0.7,-0.6 2.2,-0.25 Q3.4,-0.2 4.3,-1.2" stroke-width="1.19"/><path d="M4.9,-11.4 L8.8,-12.4 L11.0,-8.5 L5.6,-7.1" stroke-width="1.62"/><path d="M7.2,-7.2 Q8.1,-5 8.2,-2.2 Q8.5,-0.3 9.9,-0.5 L10.8,-1.6" stroke-width="1.44"/><circle cx="1.0" cy="-5.3" r="0.35" fill="#000" stroke="none"/></g><path d="M15.5,-13.8H14V3.5H15.5" fill="none" stroke="#000" stroke-width="0.8"/><text x="19.5" y="0" font-size="15.8" font-style="italic" textLength="9.3" lengthAdjust="spacingAndGlyphs">σ</text><text x="29.8" y="-7.9" font-size="11.6" font-style="italic" textLength="19.3" lengthAdjust="spacingAndGlyphs">x;yx</text><text x="29.8" y="4.6" font-size="9.2" textLength="19.0" lengthAdjust="spacingAndGlyphs">Minj</text><path d="M51,-13.8H52.5V3.5H51" fill="none" stroke="#000" stroke-width="0.8"/></g></svg>
</body></html>
